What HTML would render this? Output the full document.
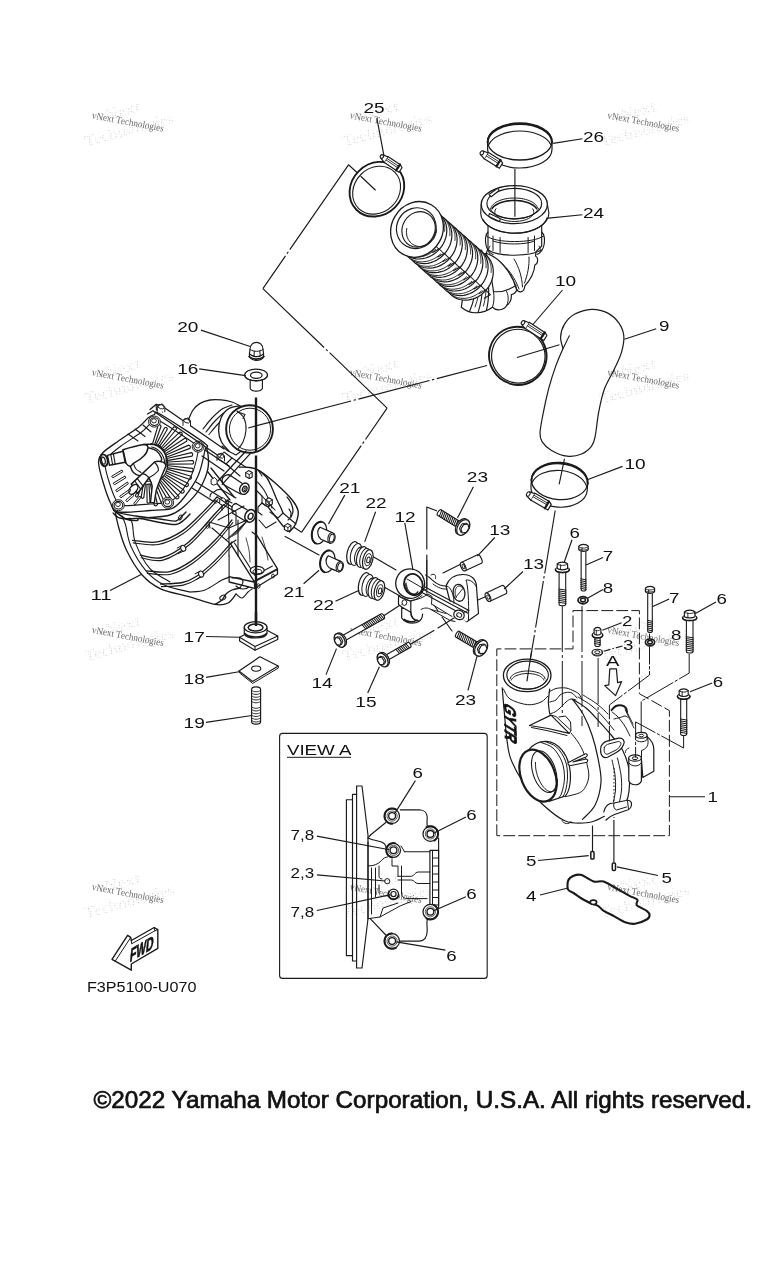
<!DOCTYPE html>
<html><head><meta charset="utf-8"><title>Diagram</title>
<style>
html,body{margin:0;padding:0;background:#fff;}
body{width:768px;height:1280px;overflow:hidden;font-family:"Liberation Sans",sans-serif;}
svg{display:block;position:absolute;left:0;top:0;will-change:transform;}
svg text{font-family:"Liberation Sans",sans-serif;}
svg text.wm{font-family:"Liberation Serif",serif;}
</style></head><body>
<svg width="768" height="1280" viewBox="0 0 768 1280">
<rect x="0" y="0" width="768" height="1280" fill="#fff"/>
<defs><pattern id="dots" width="2.6" height="2.6" patternUnits="userSpaceOnUse" patternTransform="rotate(20)"><rect x="0" y="0" width="1.1" height="1.1" fill="#c4c4c4"/></pattern></defs>
<g transform="rotate(-15 128 122)" fill="url(#dots)" font-weight="bold"><text class="wm" x="98" y="115" font-size="16" textLength="46" lengthAdjust="spacingAndGlyphs">vNext</text><text class="wm" x="81" y="135" font-size="16" textLength="92" lengthAdjust="spacingAndGlyphs">Technologies</text></g>
<text class="wm" x="128" y="125" font-size="10" fill="#6e6e6e" text-anchor="middle" textLength="73" lengthAdjust="spacingAndGlyphs" transform="rotate(10.5 128 122)">vNext Technologies</text>
<g transform="rotate(-15 128 379)" fill="url(#dots)" font-weight="bold"><text class="wm" x="98" y="372" font-size="16" textLength="46" lengthAdjust="spacingAndGlyphs">vNext</text><text class="wm" x="81" y="392" font-size="16" textLength="92" lengthAdjust="spacingAndGlyphs">Technologies</text></g>
<text class="wm" x="128" y="382" font-size="10" fill="#6e6e6e" text-anchor="middle" textLength="73" lengthAdjust="spacingAndGlyphs" transform="rotate(10.5 128 379)">vNext Technologies</text>
<g transform="rotate(-15 128 636.5)" fill="url(#dots)" font-weight="bold"><text class="wm" x="98" y="629.5" font-size="16" textLength="46" lengthAdjust="spacingAndGlyphs">vNext</text><text class="wm" x="81" y="649.5" font-size="16" textLength="92" lengthAdjust="spacingAndGlyphs">Technologies</text></g>
<text class="wm" x="128" y="639.5" font-size="10" fill="#6e6e6e" text-anchor="middle" textLength="73" lengthAdjust="spacingAndGlyphs" transform="rotate(10.5 128 636.5)">vNext Technologies</text>
<g transform="rotate(-15 128 893.5)" fill="url(#dots)" font-weight="bold"><text class="wm" x="98" y="886.5" font-size="16" textLength="46" lengthAdjust="spacingAndGlyphs">vNext</text><text class="wm" x="81" y="906.5" font-size="16" textLength="92" lengthAdjust="spacingAndGlyphs">Technologies</text></g>
<text class="wm" x="128" y="896.5" font-size="10" fill="#6e6e6e" text-anchor="middle" textLength="73" lengthAdjust="spacingAndGlyphs" transform="rotate(10.5 128 893.5)">vNext Technologies</text>
<g transform="rotate(-15 386 122)" fill="url(#dots)" font-weight="bold"><text class="wm" x="356" y="115" font-size="16" textLength="46" lengthAdjust="spacingAndGlyphs">vNext</text><text class="wm" x="339" y="135" font-size="16" textLength="92" lengthAdjust="spacingAndGlyphs">Technologies</text></g>
<text class="wm" x="386" y="125" font-size="10" fill="#6e6e6e" text-anchor="middle" textLength="73" lengthAdjust="spacingAndGlyphs" transform="rotate(10.5 386 122)">vNext Technologies</text>
<g transform="rotate(-15 386 379)" fill="url(#dots)" font-weight="bold"><text class="wm" x="356" y="372" font-size="16" textLength="46" lengthAdjust="spacingAndGlyphs">vNext</text><text class="wm" x="339" y="392" font-size="16" textLength="92" lengthAdjust="spacingAndGlyphs">Technologies</text></g>
<text class="wm" x="386" y="382" font-size="10" fill="#6e6e6e" text-anchor="middle" textLength="73" lengthAdjust="spacingAndGlyphs" transform="rotate(10.5 386 379)">vNext Technologies</text>
<g transform="rotate(-15 386 636.5)" fill="url(#dots)" font-weight="bold"><text class="wm" x="356" y="629.5" font-size="16" textLength="46" lengthAdjust="spacingAndGlyphs">vNext</text><text class="wm" x="339" y="649.5" font-size="16" textLength="92" lengthAdjust="spacingAndGlyphs">Technologies</text></g>
<text class="wm" x="386" y="639.5" font-size="10" fill="#6e6e6e" text-anchor="middle" textLength="73" lengthAdjust="spacingAndGlyphs" transform="rotate(10.5 386 636.5)">vNext Technologies</text>
<g transform="rotate(-15 386 893.5)" fill="url(#dots)" font-weight="bold"><text class="wm" x="356" y="886.5" font-size="16" textLength="46" lengthAdjust="spacingAndGlyphs">vNext</text><text class="wm" x="339" y="906.5" font-size="16" textLength="92" lengthAdjust="spacingAndGlyphs">Technologies</text></g>
<text class="wm" x="386" y="896.5" font-size="10" fill="#6e6e6e" text-anchor="middle" textLength="73" lengthAdjust="spacingAndGlyphs" transform="rotate(10.5 386 893.5)">vNext Technologies</text>
<g transform="rotate(-15 643.5 122)" fill="url(#dots)" font-weight="bold"><text class="wm" x="613.5" y="115" font-size="16" textLength="46" lengthAdjust="spacingAndGlyphs">vNext</text><text class="wm" x="596.5" y="135" font-size="16" textLength="92" lengthAdjust="spacingAndGlyphs">Technologies</text></g>
<text class="wm" x="643.5" y="125" font-size="10" fill="#6e6e6e" text-anchor="middle" textLength="73" lengthAdjust="spacingAndGlyphs" transform="rotate(10.5 643.5 122)">vNext Technologies</text>
<g transform="rotate(-15 643.5 379)" fill="url(#dots)" font-weight="bold"><text class="wm" x="613.5" y="372" font-size="16" textLength="46" lengthAdjust="spacingAndGlyphs">vNext</text><text class="wm" x="596.5" y="392" font-size="16" textLength="92" lengthAdjust="spacingAndGlyphs">Technologies</text></g>
<text class="wm" x="643.5" y="382" font-size="10" fill="#6e6e6e" text-anchor="middle" textLength="73" lengthAdjust="spacingAndGlyphs" transform="rotate(10.5 643.5 379)">vNext Technologies</text>
<g transform="rotate(-15 643.5 636.5)" fill="url(#dots)" font-weight="bold"><text class="wm" x="613.5" y="629.5" font-size="16" textLength="46" lengthAdjust="spacingAndGlyphs">vNext</text><text class="wm" x="596.5" y="649.5" font-size="16" textLength="92" lengthAdjust="spacingAndGlyphs">Technologies</text></g>
<text class="wm" x="643.5" y="639.5" font-size="10" fill="#6e6e6e" text-anchor="middle" textLength="73" lengthAdjust="spacingAndGlyphs" transform="rotate(10.5 643.5 636.5)">vNext Technologies</text>
<g transform="rotate(-15 643.5 893.5)" fill="url(#dots)" font-weight="bold"><text class="wm" x="613.5" y="886.5" font-size="16" textLength="46" lengthAdjust="spacingAndGlyphs">vNext</text><text class="wm" x="596.5" y="906.5" font-size="16" textLength="92" lengthAdjust="spacingAndGlyphs">Technologies</text></g>
<text class="wm" x="643.5" y="896.5" font-size="10" fill="#6e6e6e" text-anchor="middle" textLength="73" lengthAdjust="spacingAndGlyphs" transform="rotate(10.5 643.5 893.5)">vNext Technologies</text>
<path d="M375.3 190 L361 176.5 M357 172.5 L348.5 164.8" stroke="#1a1a1a" stroke-width="1.15" fill="none" stroke-linejoin="round" stroke-linecap="round" />
<path d="M348.5 164.8 L289.8 249.7 M288.3 251.8 L287.0 253.8 M285.5 255.9 L262.9 288.6 " stroke="#1a1a1a" stroke-width="1.15" fill="none" stroke-linecap="butt"/>
<path d="M262.9 288.6 L324.1 347.5 M326.0 349.3 L327.7 350.9 M329.6 352.7 L387.1 408.1 " stroke="#1a1a1a" stroke-width="1.15" fill="none" stroke-linecap="butt"/>
<path d="M387.1 408.1 L365.5 439.5 M364.0 441.6 L362.6 443.6 M361.2 445.7 L301.5 532.3 " stroke="#1a1a1a" stroke-width="1.15" fill="none" stroke-linecap="butt"/>
<line x1="301.5" y1="532.3" x2="283.9" y2="520.5" stroke="#1a1a1a" stroke-width="1.15" stroke-linecap="butt"/>
<path d="M250.0 427.4 L351.1 401.0 M353.6 400.3 L355.9 399.7 M358.5 399.1 L429.5 380.5 M432.0 379.9 L434.3 379.3 M436.8 378.6 L487.0 365.5 " stroke="#1a1a1a" stroke-width="1.15" fill="none" stroke-linecap="butt"/>
<line x1="517" y1="357.5" x2="559.4" y2="344.8" stroke="#1a1a1a" stroke-width="1.15" stroke-linecap="butt"/>
<path d="M555.2 510.5 L544.7 573.5 M544.2 576.1 L543.8 578.5 M543.4 581.0 L535.6 627.5 M535.2 630.0 L534.8 632.4 M534.4 635.0 L527.5 676.0 " stroke="#1a1a1a" stroke-width="1.15" fill="none" stroke-linecap="butt"/>
<path d="M436.5 510.8 L426.8 507 L426.8 549 M426.8 555 L426.8 593.7 L438 611 M442 617 L452 631" stroke="#1a1a1a" stroke-width="1.15" fill="none" stroke-linejoin="round" stroke-linecap="round" />
<path d="M383.3 616 L401 604.5" stroke="#1a1a1a" stroke-width="1.15" fill="none" stroke-linejoin="round" stroke-linecap="round" />
<path d="M409.4 644.7 L434 630.5 M438 628 L454 618" stroke="#1a1a1a" stroke-width="1.15" fill="none" stroke-linejoin="round" stroke-linecap="round" />
<path d="M372 556 L396 570" stroke="#1a1a1a" stroke-width="1.15" fill="none" stroke-linejoin="round" stroke-linecap="round" />
<path d="M384 587 L400 596" stroke="#1a1a1a" stroke-width="1.15" fill="none" stroke-linejoin="round" stroke-linecap="round" />
<path d="M319 555 L266 526" stroke="#1a1a1a" stroke-width="1.15" fill="none" stroke-linejoin="round" stroke-linecap="round" />
<path d="M463 563 L443 573" stroke="#1a1a1a" stroke-width="1.15" fill="none" stroke-linejoin="round" stroke-linecap="round" />
<path d="M487 596 L478 600" stroke="#1a1a1a" stroke-width="1.15" fill="none" stroke-linejoin="round" stroke-linecap="round" />
<path d="M496.8 835.7 L496.8 648.9 L573 648.9 L573 610.6 L639.4 610.6 L639.4 693.7 L669.4 710.6 L669.4 835.7 Z" stroke="#1a1a1a" stroke-width="1.0" fill="none" stroke-dasharray="11 4" stroke-linejoin="round" stroke-linecap="round" stroke-linecap="butt"/>
<rect x="279.6" y="733.4" width="207.6" height="245" rx="3" ry="3" fill="none" stroke="#1a1a1a" stroke-width="1.1"/>
<line x1="592.5" y1="825.6" x2="592.5" y2="851" stroke="#1a1a1a" stroke-width="1.15" stroke-linecap="butt"/>
<line x1="613.9" y1="820" x2="613.9" y2="862.5" stroke="#1a1a1a" stroke-width="1.15" stroke-linecap="butt"/>
<rect x="590.8" y="851.6" width="3.2" height="7.4" rx="1.1" fill="#fff" stroke="#1a1a1a" stroke-width="1.5"/>
<rect x="612.3" y="863" width="3.2" height="7.4" rx="1.1" fill="#fff" stroke="#1a1a1a" stroke-width="1.5"/>
<ellipse cx="376.9" cy="189.2" rx="29" ry="25.6" stroke="#1a1a1a" stroke-width="1.9" fill="none" transform="rotate(-45 376.9 189.2)"/>
<ellipse cx="376.6" cy="190.2" rx="25.6" ry="22.2" stroke="#1a1a1a" stroke-width="1.1" fill="none" transform="rotate(-45 376.6 190.2)"/>
<g transform="translate(392.2 163.5) rotate(34)" stroke="#1a1a1a" stroke-linejoin="round" stroke-linecap="round"><path d="M-7.5 -3.5 L7.5 -3.5 L10.5 -2.0 L10.5 3.5 L-7.5 3.5 Z" fill="#fff" stroke-width="1.2"/><path d="M-7.5 -1.2999999999999998 L7.5 -1.2999999999999998 M-7.5 0.5 L7.5 0.5" fill="none" stroke-width="0.8"/><path d="M-7.5 -3.0 L-12.5 -2.0 L-12.5 2.0 L-7.5 3.5" fill="#fff" stroke-width="1.2"/><ellipse cx="-12.5" cy="0" rx="1.6" ry="1.9" fill="#fff" stroke-width="1.1"/><path d="M7.0 -3.5 L7.0 3.5" stroke-width="2.2"/></g>
<ellipse cx="519.8" cy="141.5" rx="32.2" ry="18.5" stroke="#1a1a1a" stroke-width="1.3" fill="none"/>
<path d="M487.59999999999997 142.5 A32.2 18.5 0 0 1 552.0 142.5" stroke="#1a1a1a" stroke-width="2.0" fill="none" stroke-linejoin="round" stroke-linecap="round" />
<path d="M488.566 145.06 A32.2 18.5 0 0 1 551.034 145.06" stroke="#1a1a1a" stroke-width="1.1" fill="none" stroke-linejoin="round" stroke-linecap="round" />
<path d="M487.59999999999997 141.5 L487.59999999999997 149.5 A32.2 18.5 0 0 0 552.0 149.5 L552.0 141.5" stroke="#1a1a1a" stroke-width="1.2" fill="none" stroke-linejoin="round" stroke-linecap="round" />
<g transform="translate(492.5 159.5) rotate(32)" stroke="#1a1a1a" stroke-linejoin="round" stroke-linecap="round"><path d="M-7.5 -3.75 L7.5 -3.75 L10.5 -2.25 L10.5 3.75 L-7.5 3.75 Z" fill="#fff" stroke-width="1.2"/><path d="M-7.5 -1.5499999999999998 L7.5 -1.5499999999999998 M-7.5 0.25 L7.5 0.25" fill="none" stroke-width="0.8"/><path d="M-7.5 -3.25 L-12.5 -2.25 L-12.5 2.25 L-7.5 3.75" fill="#fff" stroke-width="1.2"/><ellipse cx="-12.5" cy="0" rx="1.6" ry="2.15" fill="#fff" stroke-width="1.1"/><path d="M7.0 -3.75 L7.0 3.75" stroke-width="2.2"/></g>
<ellipse cx="517.8" cy="355.8" rx="28.6" ry="29.2" stroke="#1a1a1a" stroke-width="1.9" fill="none" transform="rotate(-30 517.8 355.8)"/>
<ellipse cx="518.3" cy="356.2" rx="26.6" ry="27.0" stroke="#1a1a1a" stroke-width="1.2" fill="none" transform="rotate(-30 518.3 356.2)"/>
<g transform="translate(535.2 330.6) rotate(33)" stroke="#1a1a1a" stroke-linejoin="round" stroke-linecap="round"><path d="M-9.5 -3.75 L9.5 -3.75 L12.5 -2.25 L12.5 3.75 L-9.5 3.75 Z" fill="#fff" stroke-width="1.2"/><path d="M-9.5 -1.5499999999999998 L9.5 -1.5499999999999998 M-9.5 0.25 L9.5 0.25" fill="none" stroke-width="0.8"/><path d="M-9.5 -3.25 L-14.5 -2.25 L-14.5 2.25 L-9.5 3.75" fill="#fff" stroke-width="1.2"/><ellipse cx="-14.5" cy="0" rx="1.6" ry="2.15" fill="#fff" stroke-width="1.1"/><path d="M9.0 -3.75 L9.0 3.75" stroke-width="2.2"/></g>
<g transform="rotate(4 559.6 481)">
<ellipse cx="559.6" cy="481" rx="28.2" ry="18.6" stroke="#1a1a1a" stroke-width="1.3" fill="none"/>
<path d="M531.4 482 A28.2 18.6 0 0 1 587.8000000000001 482" stroke="#1a1a1a" stroke-width="1.9" fill="none" stroke-linejoin="round" stroke-linecap="round" />
<path d="M532.105 484.88 A28.2 18.6 0 0 1 587.095 484.88" stroke="#1a1a1a" stroke-width="1.1" fill="none" stroke-linejoin="round" stroke-linecap="round" />
<path d="M531.4 481 L531.4 488.6 A28.2 18.6 0 0 0 587.8000000000001 488.6 L587.8000000000001 481" stroke="#1a1a1a" stroke-width="1.2" fill="none" stroke-linejoin="round" stroke-linecap="round" />
</g>
<g transform="translate(540 500.8) rotate(30)" stroke="#1a1a1a" stroke-linejoin="round" stroke-linecap="round"><path d="M-8.5 -4.0 L8.5 -4.0 L11.5 -2.5 L11.5 4.0 L-8.5 4.0 Z" fill="#fff" stroke-width="1.2"/><path d="M-8.5 -1.7999999999999998 L8.5 -1.7999999999999998 M-8.5 0.0 L8.5 0.0" fill="none" stroke-width="0.8"/><path d="M-8.5 -3.5 L-13.5 -2.5 L-13.5 2.5 L-8.5 4.0" fill="#fff" stroke-width="1.2"/><ellipse cx="-13.5" cy="0" rx="1.6" ry="2.4" fill="#fff" stroke-width="1.1"/><path d="M8.0 -4.0 L8.0 4.0" stroke-width="2.2"/></g>
<path d="M485.8 254.5 C497 258 511 270 516.6 288.9 C519 294 524.5 292 524.8 286 C531 279 534.5 271 534.8 265 C538.5 263.5 538.5 257.5 535.5 256 L536 251.6 L541.7 246 L541.7 222 L488 222 L488 248.8 Z" stroke="#1a1a1a" stroke-width="1.15" fill="#fff" stroke-linejoin="round" stroke-linecap="round" />
<path d="M500 262 C508 268 515 278 519 289" stroke="#1a1a1a" stroke-width="1.0" fill="none" stroke-linejoin="round" stroke-linecap="round" />
<path d="M514 259 C519 267 522 277 522.5 287" stroke="#1a1a1a" stroke-width="1.0" fill="none" stroke-linejoin="round" stroke-linecap="round" />
<path d="M529 257 C529.5 266 527.5 275 524.5 283" stroke="#1a1a1a" stroke-width="1.0" fill="none" stroke-linejoin="round" stroke-linecap="round" />
<path d="M486.2 253.2 C474 268 463 290 461.3 307.2 C466 311 471 313 475.3 312.7 C482 313 488 310.5 492.5 307.2 C496 311.5 504 310.5 507 305 C510 303 511.6 299 511.3 294.7 C514 294 516 292 516.7 290 C511 270 498 257 486.2 253.2 Z" stroke="#1a1a1a" stroke-width="1.2" fill="#fff" stroke-linejoin="round" stroke-linecap="round" />
<path d="M486.2 253.2 C490 266 492 280 493.5 291.6 C501 292.5 508 290.5 516 285.6" stroke="#1a1a1a" stroke-width="1.15" fill="none" stroke-linejoin="round" stroke-linecap="round" />
<path d="M481.5 250 C488 268 491 292 486.5 310.5 M476 246.5 C483.5 266 485 292 478 312.6 M470.5 243 C478 262 478.5 292 469.5 311.5" stroke="#1a1a1a" stroke-width="1.15" fill="none" stroke-linejoin="round" stroke-linecap="round" />
<path d="M493.5 291.6 C494.5 297 494 303 492.5 307.2 M506 290.6 C508.5 294 509 300 507 305" stroke="#1a1a1a" stroke-width="1.0" fill="none" stroke-linejoin="round" stroke-linecap="round" />
<path d="M484 262 C486.5 275 487.5 292 483.5 306 M478 262 C480.5 275 481 292 475 307" stroke="#1a1a1a" stroke-width="0.9" fill="none" stroke-linejoin="round" stroke-linecap="round" />
<path d="M482.3 252.5 L484.8 254.1 L487.0 256.0 L488.9 258.2 L490.5 260.6 L491.8 263.4 L492.7 266.2 L493.2 269.3 L493.3 272.4 L493.0 275.6 L492.3 278.8 L491.2 281.9 L489.8 284.9 L488.0 287.7 L485.9 290.4 L483.5 292.8 L480.9 294.9 L478.1 296.7 L475.2 298.1 L472.1 299.2 L469.0 299.9 L465.9 300.1 L462.8 300.0 L459.8 299.5 L457.0 298.6 L454.3 297.3 L451.9 295.6 L449.8 293.6 L447.9 291.4 " stroke="#1a1a1a" stroke-width="1.2" fill="#fff" stroke-linejoin="round" stroke-linecap="round" />
<path d="M482.0 290.5 L481.1 291.4 L480.1 292.1 L479.2 292.9 L478.2 293.6 L477.2 294.2 L476.2 294.8 L475.1 295.4 L474.1 295.9 L473.0 296.4 L471.9 296.8 L470.8 297.2 L469.7 297.5 L468.6 297.8 L467.4 298.0 L466.3 298.2 L465.2 298.3 L464.1 298.3 L463.0 298.3 L461.9 298.3 L460.8 298.2 L459.7 298.1 L458.7 297.9 L457.6 297.6 L456.6 297.3 L455.6 296.9 L454.6 296.5 L453.7 296.1 L452.7 295.6 " stroke="#1a1a1a" stroke-width="0.95" fill="none" stroke-linejoin="round" stroke-linecap="round" />
<path d="M485.8 255.3 L486.2 255.8 L486.6 256.2 L487.0 256.7 L487.4 257.3 L487.8 257.8 L488.1 258.3 L488.4 258.9 L488.7 259.4 L489.0 260.0 L489.3 260.6 L489.6 261.2 L489.8 261.8 L490.0 262.4 L490.2 263.0 L490.4 263.7 L490.6 264.3 L490.7 265.0 L490.9 265.6 L491.0 266.3 L491.1 266.9 L491.1 267.6 L491.2 268.3 L491.2 269.0 L491.2 269.6 L491.2 270.3 L491.2 271.0 L491.2 271.7 L491.1 272.4 " stroke="#1a1a1a" stroke-width="0.95" fill="none" stroke-linejoin="round" stroke-linecap="round" />
<path d="M477.1 248.0 L479.6 249.5 L481.8 251.4 L483.8 253.6 L485.4 256.1 L486.6 258.8 L487.5 261.7 L488.0 264.7 L488.1 267.8 L487.8 271.0 L487.1 274.2 L486.0 277.3 L484.6 280.3 L482.8 283.1 L480.7 285.8 L478.4 288.2 L475.8 290.3 L473.0 292.1 L470.0 293.5 L466.9 294.6 L463.8 295.3 L460.7 295.6 L457.6 295.4 L454.6 294.9 L451.8 294.0 L449.2 292.7 L446.7 291.1 L444.6 289.1 L442.8 286.8 " stroke="#1a1a1a" stroke-width="1.2" fill="#fff" stroke-linejoin="round" stroke-linecap="round" />
<path d="M476.8 286.0 L475.9 286.8 L475.0 287.6 L474.0 288.3 L473.0 289.0 L472.0 289.6 L471.0 290.3 L470.0 290.8 L468.9 291.3 L467.8 291.8 L466.7 292.2 L465.6 292.6 L464.5 292.9 L463.4 293.2 L462.3 293.4 L461.2 293.6 L460.0 293.7 L458.9 293.8 L457.8 293.8 L456.7 293.7 L455.6 293.6 L454.5 293.5 L453.5 293.3 L452.4 293.0 L451.4 292.7 L450.4 292.4 L449.4 292.0 L448.5 291.5 L447.6 291.0 " stroke="#1a1a1a" stroke-width="0.95" fill="none" stroke-linejoin="round" stroke-linecap="round" />
<path d="M480.6 250.7 L481.0 251.2 L481.5 251.7 L481.8 252.2 L482.2 252.7 L482.6 253.2 L482.9 253.8 L483.3 254.3 L483.6 254.9 L483.9 255.4 L484.1 256.0 L484.4 256.6 L484.6 257.2 L484.9 257.8 L485.1 258.5 L485.2 259.1 L485.4 259.7 L485.6 260.4 L485.7 261.0 L485.8 261.7 L485.9 262.4 L486.0 263.0 L486.0 263.7 L486.1 264.4 L486.1 265.1 L486.1 265.8 L486.1 266.5 L486.0 267.1 L486.0 267.8 " stroke="#1a1a1a" stroke-width="0.95" fill="none" stroke-linejoin="round" stroke-linecap="round" />
<path d="M471.9 243.4 L474.4 244.9 L476.7 246.8 L478.6 249.0 L480.2 251.5 L481.5 254.2 L482.3 257.1 L482.8 260.1 L482.9 263.3 L482.6 266.5 L481.9 269.6 L480.9 272.7 L479.4 275.7 L477.7 278.6 L475.6 281.2 L473.2 283.6 L470.6 285.7 L467.8 287.5 L464.8 289.0 L461.8 290.0 L458.7 290.7 L455.5 291.0 L452.5 290.9 L449.5 290.3 L446.6 289.4 L444.0 288.1 L441.6 286.5 L439.4 284.5 L437.6 282.2 " stroke="#1a1a1a" stroke-width="1.2" fill="#fff" stroke-linejoin="round" stroke-linecap="round" />
<path d="M471.6 281.4 L470.7 282.2 L469.8 283.0 L468.9 283.7 L467.9 284.4 L466.9 285.1 L465.8 285.7 L464.8 286.2 L463.7 286.8 L462.7 287.2 L461.6 287.7 L460.5 288.0 L459.3 288.3 L458.2 288.6 L457.1 288.8 L456.0 289.0 L454.9 289.1 L453.8 289.2 L452.6 289.2 L451.5 289.2 L450.5 289.1 L449.4 288.9 L448.3 288.7 L447.3 288.5 L446.3 288.2 L445.2 287.8 L444.3 287.4 L443.3 287.0 L442.4 286.5 " stroke="#1a1a1a" stroke-width="0.95" fill="none" stroke-linejoin="round" stroke-linecap="round" />
<path d="M475.5 246.1 L475.9 246.6 L476.3 247.1 L476.7 247.6 L477.1 248.1 L477.4 248.6 L477.8 249.2 L478.1 249.7 L478.4 250.3 L478.7 250.9 L479.0 251.5 L479.2 252.1 L479.5 252.7 L479.7 253.3 L479.9 253.9 L480.1 254.5 L480.2 255.2 L480.4 255.8 L480.5 256.5 L480.6 257.1 L480.7 257.8 L480.8 258.5 L480.9 259.1 L480.9 259.8 L480.9 260.5 L480.9 261.2 L480.9 261.9 L480.8 262.6 L480.8 263.3 " stroke="#1a1a1a" stroke-width="0.95" fill="none" stroke-linejoin="round" stroke-linecap="round" />
<path d="M466.8 238.8 L469.3 240.4 L471.5 242.3 L473.4 244.5 L475.0 246.9 L476.3 249.6 L477.2 252.5 L477.7 255.6 L477.8 258.7 L477.5 261.9 L476.8 265.1 L475.7 268.2 L474.3 271.2 L472.5 274.0 L470.4 276.6 L468.0 279.0 L465.4 281.1 L462.6 282.9 L459.7 284.4 L456.6 285.5 L453.5 286.1 L450.4 286.4 L447.3 286.3 L444.3 285.8 L441.5 284.9 L438.8 283.6 L436.4 281.9 L434.3 279.9 L432.4 277.6 " stroke="#1a1a1a" stroke-width="1.2" fill="#fff" stroke-linejoin="round" stroke-linecap="round" />
<path d="M466.5 276.8 L465.6 277.6 L464.6 278.4 L463.7 279.2 L462.7 279.9 L461.7 280.5 L460.7 281.1 L459.6 281.7 L458.6 282.2 L457.5 282.7 L456.4 283.1 L455.3 283.5 L454.2 283.8 L453.1 284.0 L451.9 284.3 L450.8 284.4 L449.7 284.5 L448.6 284.6 L447.5 284.6 L446.4 284.6 L445.3 284.5 L444.2 284.3 L443.2 284.1 L442.1 283.9 L441.1 283.6 L440.1 283.2 L439.1 282.8 L438.2 282.4 L437.2 281.9 " stroke="#1a1a1a" stroke-width="0.95" fill="none" stroke-linejoin="round" stroke-linecap="round" />
<path d="M470.3 241.6 L470.7 242.0 L471.1 242.5 L471.5 243.0 L471.9 243.5 L472.2 244.1 L472.6 244.6 L472.9 245.2 L473.2 245.7 L473.5 246.3 L473.8 246.9 L474.1 247.5 L474.3 248.1 L474.5 248.7 L474.7 249.3 L474.9 250.0 L475.1 250.6 L475.2 251.2 L475.4 251.9 L475.5 252.6 L475.6 253.2 L475.6 253.9 L475.7 254.6 L475.7 255.2 L475.7 255.9 L475.7 256.6 L475.7 257.3 L475.7 258.0 L475.6 258.7 " stroke="#1a1a1a" stroke-width="0.95" fill="none" stroke-linejoin="round" stroke-linecap="round" />
<path d="M461.6 234.3 L464.1 235.8 L466.3 237.7 L468.3 239.9 L469.9 242.4 L471.1 245.1 L472.0 248.0 L472.5 251.0 L472.6 254.1 L472.3 257.3 L471.6 260.5 L470.5 263.6 L469.1 266.6 L467.3 269.4 L465.2 272.1 L462.9 274.5 L460.3 276.6 L457.5 278.4 L454.5 279.8 L451.4 280.9 L448.3 281.6 L445.2 281.8 L442.1 281.7 L439.1 281.2 L436.3 280.3 L433.7 279.0 L431.2 277.3 L429.1 275.4 L427.2 273.1 " stroke="#1a1a1a" stroke-width="1.2" fill="#fff" stroke-linejoin="round" stroke-linecap="round" />
<path d="M461.3 272.3 L460.4 273.1 L459.5 273.8 L458.5 274.6 L457.5 275.3 L456.5 275.9 L455.5 276.5 L454.5 277.1 L453.4 277.6 L452.3 278.1 L451.2 278.5 L450.1 278.9 L449.0 279.2 L447.9 279.5 L446.8 279.7 L445.7 279.9 L444.5 280.0 L443.4 280.0 L442.3 280.0 L441.2 280.0 L440.1 279.9 L439.0 279.8 L438.0 279.6 L436.9 279.3 L435.9 279.0 L434.9 278.7 L433.9 278.3 L433.0 277.8 L432.1 277.3 " stroke="#1a1a1a" stroke-width="0.95" fill="none" stroke-linejoin="round" stroke-linecap="round" />
<path d="M465.1 237.0 L465.5 237.5 L466.0 238.0 L466.3 238.5 L466.7 239.0 L467.1 239.5 L467.4 240.0 L467.8 240.6 L468.1 241.2 L468.4 241.7 L468.6 242.3 L468.9 242.9 L469.1 243.5 L469.4 244.1 L469.6 244.8 L469.7 245.4 L469.9 246.0 L470.1 246.7 L470.2 247.3 L470.3 248.0 L470.4 248.6 L470.5 249.3 L470.5 250.0 L470.6 250.7 L470.6 251.4 L470.6 252.0 L470.6 252.7 L470.5 253.4 L470.5 254.1 " stroke="#1a1a1a" stroke-width="0.95" fill="none" stroke-linejoin="round" stroke-linecap="round" />
<path d="M456.4 229.7 L458.9 231.2 L461.2 233.1 L463.1 235.3 L464.7 237.8 L466.0 240.5 L466.8 243.4 L467.3 246.4 L467.4 249.6 L467.1 252.7 L466.4 255.9 L465.4 259.0 L463.9 262.0 L462.2 264.9 L460.1 267.5 L457.7 269.9 L455.1 272.0 L452.3 273.8 L449.3 275.2 L446.3 276.3 L443.2 277.0 L440.0 277.3 L437.0 277.2 L434.0 276.6 L431.1 275.7 L428.5 274.4 L426.1 272.8 L423.9 270.8 L422.1 268.5 " stroke="#1a1a1a" stroke-width="1.2" fill="#fff" stroke-linejoin="round" stroke-linecap="round" />
<path d="M456.1 267.7 L455.2 268.5 L454.3 269.3 L453.4 270.0 L452.4 270.7 L451.4 271.4 L450.3 272.0 L449.3 272.5 L448.2 273.0 L447.1 273.5 L446.1 273.9 L445.0 274.3 L443.8 274.6 L442.7 274.9 L441.6 275.1 L440.5 275.3 L439.4 275.4 L438.3 275.5 L437.1 275.5 L436.0 275.4 L435.0 275.3 L433.9 275.2 L432.8 275.0 L431.8 274.7 L430.7 274.4 L429.7 274.1 L428.8 273.7 L427.8 273.2 L426.9 272.7 " stroke="#1a1a1a" stroke-width="0.95" fill="none" stroke-linejoin="round" stroke-linecap="round" />
<path d="M460.0 232.4 L460.4 232.9 L460.8 233.4 L461.2 233.9 L461.6 234.4 L461.9 234.9 L462.3 235.5 L462.6 236.0 L462.9 236.6 L463.2 237.2 L463.5 237.7 L463.7 238.3 L464.0 238.9 L464.2 239.6 L464.4 240.2 L464.6 240.8 L464.7 241.5 L464.9 242.1 L465.0 242.8 L465.1 243.4 L465.2 244.1 L465.3 244.7 L465.4 245.4 L465.4 246.1 L465.4 246.8 L465.4 247.5 L465.4 248.2 L465.3 248.9 L465.3 249.5 " stroke="#1a1a1a" stroke-width="0.95" fill="none" stroke-linejoin="round" stroke-linecap="round" />
<path d="M451.3 225.1 L453.8 226.7 L456.0 228.5 L457.9 230.7 L459.5 233.2 L460.8 235.9 L461.7 238.8 L462.2 241.9 L462.3 245.0 L462.0 248.2 L461.3 251.3 L460.2 254.4 L458.8 257.4 L457.0 260.3 L454.9 262.9 L452.5 265.3 L449.9 267.4 L447.1 269.2 L444.2 270.7 L441.1 271.7 L438.0 272.4 L434.9 272.7 L431.8 272.6 L428.8 272.1 L426.0 271.1 L423.3 269.9 L420.9 268.2 L418.8 266.2 L416.9 263.9 " stroke="#1a1a1a" stroke-width="1.2" fill="#fff" stroke-linejoin="round" stroke-linecap="round" />
<path d="M451.0 263.1 L450.1 263.9 L449.1 264.7 L448.2 265.4 L447.2 266.1 L446.2 266.8 L445.2 267.4 L444.1 268.0 L443.1 268.5 L442.0 268.9 L440.9 269.4 L439.8 269.7 L438.7 270.1 L437.6 270.3 L436.4 270.6 L435.3 270.7 L434.2 270.8 L433.1 270.9 L432.0 270.9 L430.9 270.9 L429.8 270.8 L428.7 270.6 L427.6 270.4 L426.6 270.2 L425.6 269.9 L424.6 269.5 L423.6 269.1 L422.6 268.7 L421.7 268.2 " stroke="#1a1a1a" stroke-width="0.95" fill="none" stroke-linejoin="round" stroke-linecap="round" />
<path d="M454.8 227.8 L455.2 228.3 L455.6 228.8 L456.0 229.3 L456.4 229.8 L456.7 230.4 L457.1 230.9 L457.4 231.4 L457.7 232.0 L458.0 232.6 L458.3 233.2 L458.6 233.8 L458.8 234.4 L459.0 235.0 L459.2 235.6 L459.4 236.2 L459.6 236.9 L459.7 237.5 L459.9 238.2 L460.0 238.8 L460.1 239.5 L460.1 240.2 L460.2 240.9 L460.2 241.5 L460.2 242.2 L460.2 242.9 L460.2 243.6 L460.2 244.3 L460.1 245.0 " stroke="#1a1a1a" stroke-width="0.95" fill="none" stroke-linejoin="round" stroke-linecap="round" />
<path d="M446.1 220.5 L448.6 222.1 L450.8 224.0 L452.8 226.2 L454.4 228.6 L455.6 231.3 L456.5 234.2 L457.0 237.3 L457.1 240.4 L456.8 243.6 L456.1 246.8 L455.0 249.9 L453.6 252.9 L451.8 255.7 L449.7 258.4 L447.4 260.8 L444.8 262.9 L442.0 264.6 L439.0 266.1 L435.9 267.2 L432.8 267.8 L429.7 268.1 L426.6 268.0 L423.6 267.5 L420.8 266.6 L418.2 265.3 L415.7 263.6 L413.6 261.6 L411.7 259.4 " stroke="#1a1a1a" stroke-width="1.2" fill="#fff" stroke-linejoin="round" stroke-linecap="round" />
<path d="M445.8 258.5 L444.9 259.4 L444.0 260.1 L443.0 260.9 L442.0 261.6 L441.0 262.2 L440.0 262.8 L439.0 263.4 L437.9 263.9 L436.8 264.4 L435.7 264.8 L434.6 265.2 L433.5 265.5 L432.4 265.8 L431.3 266.0 L430.2 266.1 L429.0 266.3 L427.9 266.3 L426.8 266.3 L425.7 266.3 L424.6 266.2 L423.5 266.0 L422.5 265.8 L421.4 265.6 L420.4 265.3 L419.4 264.9 L418.4 264.5 L417.5 264.1 L416.6 263.6 " stroke="#1a1a1a" stroke-width="0.95" fill="none" stroke-linejoin="round" stroke-linecap="round" />
<path d="M449.6 223.3 L450.0 223.7 L450.4 224.2 L450.8 224.7 L451.2 225.3 L451.6 225.8 L451.9 226.3 L452.2 226.9 L452.6 227.4 L452.9 228.0 L453.1 228.6 L453.4 229.2 L453.6 229.8 L453.8 230.4 L454.1 231.0 L454.2 231.7 L454.4 232.3 L454.6 233.0 L454.7 233.6 L454.8 234.3 L454.9 234.9 L455.0 235.6 L455.0 236.3 L455.1 237.0 L455.1 237.6 L455.1 238.3 L455.0 239.0 L455.0 239.7 L454.9 240.4 " stroke="#1a1a1a" stroke-width="0.95" fill="none" stroke-linejoin="round" stroke-linecap="round" />
<path d="M440.9 216.0 L443.4 217.5 L445.7 219.4 L447.6 221.6 L449.2 224.1 L450.4 226.8 L451.3 229.7 L451.8 232.7 L451.9 235.8 L451.6 239.0 L450.9 242.2 L449.9 245.3 L448.4 248.3 L446.6 251.1 L444.6 253.8 L442.2 256.2 L439.6 258.3 L436.8 260.1 L433.8 261.5 L430.8 262.6 L427.7 263.3 L424.5 263.6 L421.5 263.4 L418.5 262.9 L415.6 262.0 L413.0 260.7 L410.6 259.1 L408.4 257.1 L406.6 254.8 " stroke="#1a1a1a" stroke-width="1.2" fill="#fff" stroke-linejoin="round" stroke-linecap="round" />
<path d="M440.6 254.0 L439.7 254.8 L438.8 255.6 L437.8 256.3 L436.9 257.0 L435.9 257.6 L434.8 258.3 L433.8 258.8 L432.7 259.3 L431.6 259.8 L430.6 260.2 L429.5 260.6 L428.3 260.9 L427.2 261.2 L426.1 261.4 L425.0 261.6 L423.9 261.7 L422.8 261.8 L421.6 261.8 L420.5 261.7 L419.5 261.6 L418.4 261.5 L417.3 261.3 L416.3 261.0 L415.2 260.7 L414.2 260.4 L413.3 260.0 L412.3 259.5 L411.4 259.0 " stroke="#1a1a1a" stroke-width="0.95" fill="none" stroke-linejoin="round" stroke-linecap="round" />
<path d="M444.4 218.7 L444.9 219.2 L445.3 219.7 L445.7 220.2 L446.0 220.7 L446.4 221.2 L446.8 221.7 L447.1 222.3 L447.4 222.9 L447.7 223.4 L448.0 224.0 L448.2 224.6 L448.5 225.2 L448.7 225.8 L448.9 226.5 L449.1 227.1 L449.2 227.7 L449.4 228.4 L449.5 229.0 L449.6 229.7 L449.7 230.4 L449.8 231.0 L449.9 231.7 L449.9 232.4 L449.9 233.1 L449.9 233.8 L449.9 234.4 L449.8 235.1 L449.8 235.8 " stroke="#1a1a1a" stroke-width="0.95" fill="none" stroke-linejoin="round" stroke-linecap="round" />
<path d="M435.8 211.4 L438.3 212.9 L440.5 214.8 L442.4 217.0 L444.0 219.5 L445.3 222.2 L446.2 225.1 L446.7 228.1 L446.8 231.3 L446.5 234.4 L445.8 237.6 L444.7 240.7 L443.3 243.7 L441.5 246.6 L439.4 249.2 L437.0 251.6 L434.4 253.7 L431.6 255.5 L428.7 256.9 L425.6 258.0 L422.5 258.7 L419.4 259.0 L416.3 258.9 L413.3 258.3 L410.5 257.4 L407.8 256.1 L405.4 254.5 L403.3 252.5 L401.4 250.2 " stroke="#1a1a1a" stroke-width="1.2" fill="#fff" stroke-linejoin="round" stroke-linecap="round" />
<path d="M435.5 249.4 L434.6 250.2 L433.6 251.0 L432.7 251.7 L431.7 252.4 L430.7 253.1 L429.7 253.7 L428.6 254.2 L427.6 254.8 L426.5 255.2 L425.4 255.7 L424.3 256.0 L423.2 256.3 L422.1 256.6 L420.9 256.8 L419.8 257.0 L418.7 257.1 L417.6 257.2 L416.5 257.2 L415.4 257.1 L414.3 257.1 L413.2 256.9 L412.1 256.7 L411.1 256.5 L410.1 256.2 L409.1 255.8 L408.1 255.4 L407.1 254.9 L406.2 254.4 " stroke="#1a1a1a" stroke-width="0.95" fill="none" stroke-linejoin="round" stroke-linecap="round" />
<path d="M439.3 214.1 L439.7 214.6 L440.1 215.1 L440.5 215.6 L440.9 216.1 L441.2 216.6 L441.6 217.2 L441.9 217.7 L442.2 218.3 L442.5 218.9 L442.8 219.5 L443.1 220.0 L443.3 220.7 L443.5 221.3 L443.7 221.9 L443.9 222.5 L444.1 223.2 L444.2 223.8 L444.4 224.5 L444.5 225.1 L444.6 225.8 L444.6 226.5 L444.7 227.1 L444.7 227.8 L444.7 228.5 L444.7 229.2 L444.7 229.9 L444.7 230.6 L444.6 231.3 " stroke="#1a1a1a" stroke-width="0.95" fill="none" stroke-linejoin="round" stroke-linecap="round" />
<path d="M433.7 244.0 L438.7 249.0 L432.7 252.5 M438.8 248.5 L443.8 253.5 L437.8 257.0 M444.0 253.1 L449.0 258.1 L443.0 261.6 M449.2 257.7 L454.2 262.7 L448.2 266.2 M454.3 262.3 L459.3 267.3 L453.3 270.8 M459.5 266.8 L464.5 271.8 L458.5 275.3 M464.7 271.4 L469.7 276.4 L463.7 279.9 M469.8 276.0 L474.8 281.0 L468.8 284.5 M475.0 280.5 L480.0 285.5 L474.0 289.0 M480.2 285.1 L485.2 290.1 L479.2 293.6 M485.3 289.7 L490.3 294.7 L484.3 298.2" stroke="#1a1a1a" stroke-width="1.05" fill="none" stroke-linejoin="round" stroke-linecap="round" />
<ellipse cx="417.0" cy="229.4" rx="28.5" ry="25.6" stroke="#1a1a1a" stroke-width="1.3" fill="#fff" transform="rotate(-60 417.0 229.4)"/>
<ellipse cx="416.3" cy="228.2" rx="20.6" ry="19.6" stroke="#1a1a1a" stroke-width="1.15" fill="none" transform="rotate(-60 416.3 228.2)"/>
<ellipse cx="418.6" cy="229.4" rx="18.2" ry="16.2" stroke="#1a1a1a" stroke-width="1.15" fill="none" transform="rotate(-60 418.6 229.4)"/>
<path d="M436.6 229.7 L436.4 231.6 L435.9 233.5 L435.3 235.3 L434.5 237.1 L433.6 238.8 L432.4 240.3 L431.1 241.7 L429.7 243.0 L428.1 244.1 L426.5 245.0 L424.7 245.7 L423.0 246.2 L421.2 246.4 L419.4 246.5 L417.7 246.3 L416.0 245.9 L414.4 245.2 L412.8 244.4 L411.4 243.4 L410.2 242.2 L409.1 240.8 L408.2 239.3 L407.4 237.7 L406.9 235.9 L406.6 234.1 L406.4 232.3 L406.5 230.4 L406.8 228.5 " stroke="#1a1a1a" stroke-width="1.0" fill="none" stroke-linejoin="round" stroke-linecap="round" />
<path d="M488 232 C485.5 234 485 240 486 245 C487 250 489.5 253 493 254.5 M541.7 232 C544.5 234 545 240 544 245 C543 250 540.5 253 537 254.5" stroke="#1a1a1a" stroke-width="1.15" fill="none" stroke-linejoin="round" stroke-linecap="round" />
<path d="M486.5 236 C495 243.5 534 243.5 543.5 236" stroke="#1a1a1a" stroke-width="1.0" fill="none" stroke-linejoin="round" stroke-linecap="round" />
<path d="M488 250 C500 257 528 257 541.7 250" stroke="#1a1a1a" stroke-width="1.1" fill="none" stroke-linejoin="round" stroke-linecap="round" />
<path d="M493 236 L493 250.5 M500.1 237.5 L500.1 252.5 M528.1 237.5 L528.1 252.5 M534.5 236 L534.5 250.5" stroke="#1a1a1a" stroke-width="1.0" fill="none" stroke-linejoin="round" stroke-linecap="round" />
<path d="M493 241 C503 245 526 245 534.5 241" stroke="#1a1a1a" stroke-width="1.0" fill="none" stroke-linejoin="round" stroke-linecap="round" />
<path d="M490 246 C488 249 488 252 490 254 M539 246 C541 249 541 252 539 254" stroke="#1a1a1a" stroke-width="0.9" fill="none" stroke-linejoin="round" stroke-linecap="round" />
<path d="M481.2 204.6 L480.7 213 A33.8 20 0 0 0 548.9 213 L547.4 204.6" stroke="#1a1a1a" stroke-width="1.15" fill="#fff" stroke-linejoin="round" stroke-linecap="round" />
<path d="M483 219.5 A33 19 0 0 0 546.5 219.5" stroke="#1a1a1a" stroke-width="1.1" fill="none" stroke-linejoin="round" stroke-linecap="round" />
<ellipse cx="514.3" cy="204.6" rx="33.1" ry="19" stroke="#1a1a1a" stroke-width="1.3" fill="#fff"/>
<ellipse cx="514.3" cy="203.6" rx="27.4" ry="15.2" stroke="#1a1a1a" stroke-width="1.15" fill="none"/>
<path d="M491.2 207.5 L491.7 206.4 L492.4 205.3 L493.4 204.3 L494.6 203.3 L495.9 202.3 L497.5 201.5 L499.2 200.7 L501.1 200.0 L503.1 199.4 L505.2 198.9 L507.4 198.5 L509.6 198.2 L512.0 198.1 L514.3 198.0 L516.6 198.1 L519.0 198.2 L521.2 198.5 L523.4 198.9 L525.5 199.4 L527.5 200.0 L529.4 200.7 L531.1 201.5 L532.7 202.3 L534.0 203.3 L535.2 204.3 L536.2 205.3 L536.9 206.4 L537.4 207.5 " stroke="#1a1a1a" stroke-width="1.0" fill="none" stroke-linejoin="round" stroke-linecap="round" />
<path d="M492.1 208.7 L492.7 207.7 L493.6 206.7 L494.6 205.8 L495.8 205.0 L497.2 204.2 L498.7 203.4 L500.3 202.8 L502.1 202.2 L503.9 201.7 L505.9 201.3 L507.9 200.9 L510.0 200.7 L512.2 200.5 L514.3 200.5 L516.4 200.5 L518.6 200.7 L520.7 200.9 L522.7 201.3 L524.7 201.7 L526.5 202.2 L528.3 202.8 L529.9 203.4 L531.4 204.2 L532.8 205.0 L534.0 205.8 L535.0 206.7 L535.9 207.7 L536.5 208.7 " stroke="#1a1a1a" stroke-width="1.6" fill="none" stroke-linejoin="round" stroke-linecap="round" />
<path d="M532.6 208.8 L533.4 210.0 L533.7 211.3 L533.8 212.6 L533.4 213.9 L532.7 215.1 L531.7 216.3 L530.3 217.4 L528.6 218.5 L526.6 219.4 L524.5 220.1 L522.1 220.7 L519.6 221.1 L517.0 221.4 L514.3 221.5 L511.6 221.4 L509.0 221.1 L506.5 220.7 L504.1 220.1 L502.0 219.4 L500.0 218.5 L498.3 217.4 L496.9 216.3 L495.9 215.1 L495.2 213.9 L494.8 212.6 L494.9 211.3 L495.2 210.0 L496.0 208.8 " stroke="#1a1a1a" stroke-width="1.0" fill="none" stroke-linejoin="round" stroke-linecap="round" />
<path d="M538.4 208.3 L537.9 209.5 L537.1 210.7 L536.1 211.9 L534.9 213.1 L533.5 214.1 L531.8 215.1 L530.0 216.0 L528.1 216.7 L526.0 217.4 L523.8 218.0 L521.5 218.4 L519.2 218.7 L516.7 218.9 L514.3 219.0 L511.9 218.9 L509.4 218.7 L507.1 218.4 L504.8 218.0 L502.6 217.4 L500.5 216.7 L498.6 216.0 L496.8 215.1 L495.1 214.1 L493.7 213.1 L492.5 211.9 L491.5 210.7 L490.7 209.5 L490.2 208.3 " stroke="#1a1a1a" stroke-width="1.0" fill="none" stroke-linejoin="round" stroke-linecap="round" />
<path d="M489 194.5 L496.5 189 C498.5 188 499.8 190 498.2 191.3 L491.2 196.8 Z" stroke="#1a1a1a" stroke-width="1.1" fill="#fff" stroke-linejoin="round" stroke-linecap="round" />
<path d="M489.5 213.5 L499 218 C501 219 500.2 221.6 498 220.8 L488.5 216.3 Z" stroke="#1a1a1a" stroke-width="1.1" fill="#fff" stroke-linejoin="round" stroke-linecap="round" />
<path d="M563.0 348.5 C562.6 346.6 560.4 341.2 560.6 337.2 C560.8 333.2 562.1 328.2 564.4 324.4 C566.7 320.6 569.9 316.8 574.4 314.3 C578.9 311.8 586.1 309.5 591.6 309.3 C597.1 309.1 602.9 310.6 607.4 312.9 C611.9 315.2 616.1 319.1 618.8 322.9 C621.5 326.7 623.3 331.0 623.8 335.8 C624.3 340.6 623.2 346.1 621.7 351.6 C620.2 357.1 617.4 362.6 614.5 368.8 C611.6 375.0 607.1 381.7 604.5 388.8 C601.9 395.9 600.3 403.8 598.8 411.7 C597.2 419.6 596.4 430.4 595.2 436.1 C594.0 441.8 593.9 443.1 591.6 446.1 C589.3 449.1 585.7 452.3 581.6 454.0 C577.5 455.7 572.2 456.8 567.2 456.2 C562.2 455.6 555.7 452.8 551.5 450.4 C547.3 448.0 544.1 444.7 542.2 441.8 C540.3 438.9 539.9 437.7 540.0 433.2 C540.1 428.7 541.5 422.0 542.9 414.6 C544.3 407.2 546.5 396.9 548.6 388.8 C550.8 380.7 553.4 372.6 555.8 365.9 C558.2 359.2 561.8 351.4 563.0 348.5 " stroke="#1a1a1a" stroke-width="1.2" fill="none" stroke-linejoin="round" stroke-linecap="round" />
<path d="M569.4 335.8 C567 340 565 345 563 348.5" stroke="#1a1a1a" stroke-width="1.1" fill="none" stroke-linejoin="round" stroke-linecap="round" />
<path d="M104.0 452.0 L118.0 440.0 L140.0 424.0 L150.0 408.0 L158.0 404.0 L186.0 418.0 L200.0 403.0 L221.0 399.0 L240.0 404.0 L252.0 405.0 L273.0 429.0 L262.0 452.0 L275.0 478.0 L290.0 492.0 L299.0 508.0 L297.0 524.0 L288.0 532.0 L278.0 545.0 L278.0 574.0 L256.0 589.0 L236.0 586.0 L228.0 600.0 L215.0 605.0 L189.0 597.0 L160.0 589.0 L142.0 575.0 L126.0 550.0 L118.0 526.0 L114.0 510.0 L105.0 480.0 L100.0 462.0 Z" stroke="none" stroke-width="0" fill="#fff" stroke-linejoin="round" stroke-linecap="round" />
<path d="M115.3 512.2 C115.8 514.6 116.6 520.0 118.4 526.3 C120.2 532.5 122.4 541.6 126.3 549.7 C130.2 557.8 136.2 568.2 141.9 574.7 C147.6 581.2 152.8 585.1 160.6 588.8 C168.4 592.4 179.7 594.0 188.8 596.6 C197.9 599.2 208.5 603.3 215.0 604.4 C221.5 605.5 224.5 604.7 228.0 603.0 C231.5 601.3 234.7 595.5 236.0 594.0 " stroke="#1a1a1a" stroke-width="1.3" fill="none" stroke-linejoin="round" stroke-linecap="round" />
<path d="M122.0 516.0 C122.6 517.5 124.0 519.6 125.5 524.7 C127.0 529.8 127.5 538.8 131.0 546.6 C134.5 554.4 140.9 565.1 146.6 571.6 C152.3 578.1 158.1 582.2 165.3 585.6 C172.5 589.0 185.9 590.9 190.0 592.0 " stroke="#1a1a1a" stroke-width="1.1" fill="none" stroke-linejoin="round" stroke-linecap="round" />
<path d="M130.0 518.0 C130.4 519.1 131.6 520.5 132.5 524.7 C133.4 528.9 132.7 536.1 135.6 543.4 C138.5 550.7 144.0 562.0 149.7 568.4 C155.4 574.8 166.6 579.7 170.0 582.0 " stroke="#1a1a1a" stroke-width="1.1" fill="none" stroke-linejoin="round" stroke-linecap="round" />
<path d="M132.5 540.3 C136.7 540.6 149.2 543.5 157.5 541.9 C165.8 540.3 174.7 536.1 182.5 530.9 C190.3 525.7 198.7 516.2 204.4 510.6 C210.2 505.0 214.9 499.3 217.0 497.0 " stroke="#1a1a1a" stroke-width="1.3" fill="none" stroke-linejoin="round" stroke-linecap="round" />
<path d="M133.3 542.9 C137.5 543.2 150.0 546.1 158.3 544.5 C166.6 542.9 175.5 538.7 183.3 533.5 C191.1 528.3 199.5 518.9 205.2 513.2 C211.0 507.6 215.7 501.9 217.8 499.6 " stroke="#1a1a1a" stroke-width="1.1" fill="none" stroke-linejoin="round" stroke-linecap="round" />
<path d="M140.3 555.2 C144.0 555.6 154.1 559.7 162.2 557.5 C170.3 555.3 180.0 549.2 188.8 541.9 C197.6 534.6 208.5 520.8 215.0 513.8 C221.5 506.8 225.8 502.3 228.0 500.0 " stroke="#1a1a1a" stroke-width="1.3" fill="none" stroke-linejoin="round" stroke-linecap="round" />
<path d="M141.1 557.8 C144.8 558.2 154.9 562.3 163.0 560.1 C171.1 557.9 180.8 551.8 189.6 544.5 C198.4 537.2 209.3 523.4 215.8 516.4 C222.3 509.4 226.6 504.9 228.8 502.6 " stroke="#1a1a1a" stroke-width="1.1" fill="none" stroke-linejoin="round" stroke-linecap="round" />
<path d="M146.6 570.8 C150.5 570.9 162.4 573.3 170.0 571.6 C177.6 569.9 184.4 565.8 191.9 560.6 C199.4 555.4 208.3 547.1 215.0 540.3 C221.7 533.5 229.2 523.4 232.0 520.0 " stroke="#1a1a1a" stroke-width="1.3" fill="none" stroke-linejoin="round" stroke-linecap="round" />
<path d="M147.4 573.4 C151.3 573.5 163.2 575.9 170.8 574.2 C178.4 572.5 185.2 568.4 192.7 563.2 C200.2 558.0 209.1 549.7 215.8 542.9 C222.5 536.1 230.0 526.0 232.8 522.6 " stroke="#1a1a1a" stroke-width="1.1" fill="none" stroke-linejoin="round" stroke-linecap="round" />
<path d="M160.6 584.0 C164.2 583.8 176.5 583.8 182.5 582.5 C188.5 581.2 191.2 579.9 196.6 576.3 C202.0 572.6 209.1 566.3 215.0 560.6 C220.9 554.9 229.2 545.1 232.0 542.0 " stroke="#1a1a1a" stroke-width="1.3" fill="none" stroke-linejoin="round" stroke-linecap="round" />
<path d="M161.4 586.6 C165.1 586.4 177.3 586.4 183.3 585.1 C189.3 583.8 192.0 582.5 197.4 578.9 C202.8 575.2 209.9 568.9 215.8 563.2 C221.7 557.5 230.0 547.7 232.8 544.6 " stroke="#1a1a1a" stroke-width="1.1" fill="none" stroke-linejoin="round" stroke-linecap="round" />
<path d="M177.2 548.0 L182.2 545.5 M178.2 553.7 L183.7 551.0" stroke="#1a1a1a" stroke-width="1.0" fill="none" stroke-linejoin="round" stroke-linecap="round" />
<ellipse cx="183.2" cy="548.3" rx="2.4" ry="3.1" stroke="#1a1a1a" stroke-width="1.1" fill="#fff" transform="rotate(-25 183.2 548.3)"/>
<path d="M195.1 573.8 L200.1 571.3 M196.1 579.5 L201.6 576.8" stroke="#1a1a1a" stroke-width="1.0" fill="none" stroke-linejoin="round" stroke-linecap="round" />
<ellipse cx="201.1" cy="574.0999999999999" rx="2.4" ry="3.1" stroke="#1a1a1a" stroke-width="1.1" fill="#fff" transform="rotate(-25 201.1 574.0999999999999)"/>
<path d="M190.0 592.0 C192.5 591.7 199.7 592.0 205.0 590.0 C210.3 588.0 217.8 582.2 222.0 580.0 C226.2 577.8 228.7 577.5 230.0 577.0 " stroke="#1a1a1a" stroke-width="1.1" fill="none" stroke-linejoin="round" stroke-linecap="round" />
<path d="M215.0 604.4 C216.2 603.7 220.2 601.7 222.0 600.0 C223.8 598.3 224.3 595.7 226.0 594.0 C227.7 592.3 229.7 591.0 232.0 590.0 C234.3 589.0 238.7 588.3 240.0 588.0 " stroke="#1a1a1a" stroke-width="1.3" fill="none" stroke-linejoin="round" stroke-linecap="round" />
<ellipse cx="222.8" cy="597.7" rx="3.2" ry="2.2" stroke="#1a1a1a" stroke-width="1.0" fill="none" transform="rotate(-30 222.8 597.7)"/>
<path d="M236 586 C240 590 246 590 250 586" stroke="#1a1a1a" stroke-width="1.1" fill="none" stroke-linejoin="round" stroke-linecap="round" />
<path d="M112.0 506.0 C112.7 507.0 112.0 510.3 116.0 512.0 C120.0 513.7 128.7 514.8 136.0 516.0 C143.3 517.2 153.3 518.2 160.0 519.0 C166.7 519.8 172.3 521.5 176.0 521.0 C179.7 520.5 180.3 517.5 182.0 516.0 C183.7 514.5 185.3 512.7 186.0 512.0 " stroke="#1a1a1a" stroke-width="1.3" fill="none" stroke-linejoin="round" stroke-linecap="round" />
<path d="M114.0 510.5 C116.0 511.9 122.2 517.3 126.0 519.0 C129.8 520.7 134.7 520.6 137.0 520.5 C139.3 520.4 136.2 518.2 140.0 518.5 C143.8 518.8 154.0 521.5 160.0 522.5 C166.0 523.5 172.0 524.9 176.0 524.5 C180.0 524.1 181.7 521.8 184.0 520.0 C186.3 518.2 189.0 515.0 190.0 514.0 " stroke="#1a1a1a" stroke-width="1.5" fill="none" stroke-linejoin="round" stroke-linecap="round" />
<ellipse cx="180.3" cy="517.5" rx="1.6" ry="2.6" stroke="#1a1a1a" stroke-width="0.9" fill="none" transform="rotate(30 180.3 517.5)"/>
<path d="M201.0 441.0 C201.9 442.0 205.3 442.5 206.5 447.0 C207.7 451.5 209.2 461.0 208.0 468.0 C206.8 475.0 203.5 482.6 199.5 489.0 C195.5 495.4 188.9 502.2 184.0 506.5 C179.1 510.8 175.7 513.2 170.0 515.0 C164.3 516.8 158.0 516.9 150.0 517.5 C142.0 518.1 128.2 519.2 122.0 518.5 C115.8 517.8 114.5 513.9 113.0 513.0 " stroke="#1a1a1a" stroke-width="1.4" fill="none" stroke-linejoin="round" stroke-linecap="round" />
<path d="M154.4 414.5 C156.1 413.9 153.0 410.0 160.0 414.0 C167.0 418.0 198.1 438.0 204.4 443.0 C210.7 448.0 205.9 445.4 205.0 450.0 C204.1 454.6 200.9 469.4 198.0 476.0 C195.1 482.6 188.1 492.4 184.5 497.0 C180.9 501.6 176.8 506.6 172.0 508.5 C167.2 510.4 157.6 510.0 150.0 510.5 C142.4 511.0 123.5 513.0 118.0 512.0 C112.5 510.9 112.6 507.2 110.5 503.0 C108.4 498.8 104.7 487.7 103.0 482.0 C101.3 476.3 98.5 466.1 98.5 462.0 C98.5 457.9 100.2 455.4 103.0 452.5 C105.8 449.6 113.4 444.6 118.4 441.0 C123.4 437.4 134.7 430.2 138.8 427.0 C142.9 423.8 145.8 419.8 148.0 418.0 C150.2 416.2 152.7 415.1 154.4 414.5 Z" stroke="#1a1a1a" stroke-width="1.3" fill="#fff" stroke-linejoin="round" stroke-linecap="round" />
<path d="M155.0 420.5 C156.5 419.9 154.1 417.5 160.0 421.0 C165.9 424.5 191.7 441.2 197.0 445.5 C202.3 449.8 198.7 448.0 198.0 452.0 C197.3 456.0 194.5 468.3 192.0 474.0 C189.5 479.7 183.2 489.1 180.0 493.0 C176.8 496.9 173.2 500.5 169.0 502.0 C164.8 503.5 156.6 503.5 150.0 504.0 C143.4 504.5 126.8 506.2 122.0 505.5 C117.2 504.8 117.4 502.6 115.5 499.0 C113.6 495.4 110.0 484.9 108.5 480.0 C107.0 475.1 105.1 467.2 105.0 464.0 C104.9 460.8 105.8 459.5 108.0 457.0 C110.2 454.5 116.4 449.4 121.0 446.0 C125.6 442.6 137.1 435.4 141.0 432.5 C144.9 429.6 147.0 426.7 149.0 425.0 C151.0 423.3 153.5 421.1 155.0 420.5 Z" stroke="#1a1a1a" stroke-width="1.1" fill="none" stroke-linejoin="round" stroke-linecap="round" />
<path d="M152.8 443.0 L158.1 425.3 Q160.2 423.9 161.0 426.3 L154.9 443.7" stroke="#1a1a1a" stroke-width="1.15" fill="none" stroke-linejoin="round" stroke-linecap="round" />
<path d="M156.3 444.3 L164.6 427.8 Q166.9 426.7 167.3 429.2 L158.2 445.3" stroke="#1a1a1a" stroke-width="1.15" fill="none" stroke-linejoin="round" stroke-linecap="round" />
<path d="M159.6 446.2 L173.8 426.9 Q176.4 426.4 176.6 429.0 L161.3 447.5" stroke="#1a1a1a" stroke-width="1.15" fill="none" stroke-linejoin="round" stroke-linecap="round" />
<path d="M162.4 448.6 L179.8 432.1 Q182.5 432.0 182.2 434.7 L163.9 450.2" stroke="#1a1a1a" stroke-width="1.15" fill="none" stroke-linejoin="round" stroke-linecap="round" />
<path d="M164.8 451.5 L184.8 438.2 Q187.5 438.6 186.7 441.2 L166.0 453.3" stroke="#1a1a1a" stroke-width="1.15" fill="none" stroke-linejoin="round" stroke-linecap="round" />
<path d="M166.7 454.8 L188.7 445.1 Q191.2 446.0 190.0 448.4 L167.5 456.8" stroke="#1a1a1a" stroke-width="1.15" fill="none" stroke-linejoin="round" stroke-linecap="round" />
<path d="M168.0 458.3 L191.3 452.6 Q193.7 453.9 192.0 456.1 L168.4 460.4" stroke="#1a1a1a" stroke-width="1.15" fill="none" stroke-linejoin="round" stroke-linecap="round" />
<path d="M168.6 462.0 L192.6 460.5 Q194.7 462.1 192.7 464.0 L168.7 464.1" stroke="#1a1a1a" stroke-width="1.15" fill="none" stroke-linejoin="round" stroke-linecap="round" />
<path d="M168.6 465.7 L192.5 468.4 Q194.2 470.4 192.0 471.9 L168.3 467.9" stroke="#1a1a1a" stroke-width="1.15" fill="none" stroke-linejoin="round" stroke-linecap="round" />
<path d="M168.0 469.4 L191.0 476.2 Q192.4 478.5 189.9 479.5 L167.3 471.5" stroke="#1a1a1a" stroke-width="1.15" fill="none" stroke-linejoin="round" stroke-linecap="round" />
<path d="M166.7 472.9 L188.2 483.6 Q189.1 486.1 186.5 486.7 L165.7 474.8" stroke="#1a1a1a" stroke-width="1.15" fill="none" stroke-linejoin="round" stroke-linecap="round" />
<path d="M164.8 476.2 L184.1 490.4 Q184.6 493.0 182.0 493.2 L163.5 477.9" stroke="#1a1a1a" stroke-width="1.15" fill="none" stroke-linejoin="round" stroke-linecap="round" />
<path d="M162.4 479.0 L178.9 496.4 Q179.0 499.1 176.3 498.8 L160.8 480.5" stroke="#1a1a1a" stroke-width="1.15" fill="none" stroke-linejoin="round" stroke-linecap="round" />
<path d="M159.5 481.4 L172.8 501.4 Q172.4 504.1 169.8 503.3 L157.7 482.6" stroke="#1a1a1a" stroke-width="1.15" fill="none" stroke-linejoin="round" stroke-linecap="round" />
<path d="M156.2 483.3 L164.4 502.1 Q163.7 504.6 161.4 503.3 L154.2 484.1" stroke="#1a1a1a" stroke-width="1.15" fill="none" stroke-linejoin="round" stroke-linecap="round" />
<path d="M152.7 484.6 L157.5 504.5 Q156.3 506.8 154.3 505.2 L150.6 485.0" stroke="#1a1a1a" stroke-width="1.15" fill="none" stroke-linejoin="round" stroke-linecap="round" />
<path d="M149.0 485.2 L150.0 502.2 Q148.6 504.3 147.1 502.3 L146.9 485.3" stroke="#1a1a1a" stroke-width="1.15" fill="none" stroke-linejoin="round" stroke-linecap="round" />
<path d="M145.3 485.2 L143.8 497.6 Q142.2 499.4 141.2 497.3 L143.1 484.9" stroke="#1a1a1a" stroke-width="1.15" fill="none" stroke-linejoin="round" stroke-linecap="round" />
<path d="M141.6 484.6 L137.9 496.5 Q136.1 498.0 135.5 495.7 L139.5 483.9" stroke="#1a1a1a" stroke-width="1.15" fill="none" stroke-linejoin="round" stroke-linecap="round" />
<path d="M150.8 443.6 L153.2 444.2 L155.5 445.1 L157.7 446.2 L159.8 447.6 L161.7 449.3 L163.3 451.1 L164.7 453.2 L165.9 455.4 L166.8 457.7 L167.4 460.1 L167.7 462.6 L167.7 465.1 L167.4 467.5 L166.8 470.0 L165.9 472.3 L164.7 474.5 L163.3 476.5 L161.6 478.4 L159.7 480.0 L157.7 481.4 L155.5 482.6 L153.1 483.4 L150.7 484.0 L148.2 484.3 L145.7 484.2 L143.3 483.9 L140.9 483.3 L138.5 482.4 " stroke="#1a1a1a" stroke-width="1.3" fill="none" stroke-linejoin="round" stroke-linecap="round" />
<path d="M151.7 446.9 L153.5 447.5 L155.3 448.3 L156.9 449.2 L158.4 450.4 L159.8 451.7 L161.1 453.1 L162.2 454.7 L163.1 456.4 L163.8 458.2 L164.3 460.0 L164.6 461.9 L164.7 463.8 L164.6 465.7 L164.3 467.6 L163.8 469.4 L163.1 471.2 L162.2 472.9 L161.1 474.5 L159.8 475.9 L158.4 477.2 L156.9 478.4 L155.3 479.3 L153.5 480.1 L151.7 480.7 L149.9 481.1 L148.0 481.3 L146.1 481.3 L144.2 481.0 " stroke="#1a1a1a" stroke-width="1.1" fill="none" stroke-linejoin="round" stroke-linecap="round" />
<path d="M143.8 444.5 C144.5 444.4 146.1 444.2 148.0 444.2 C149.9 444.2 152.9 444.2 155.0 444.6 C157.1 445.0 158.7 444.9 160.5 446.6 C162.3 448.3 164.8 452.1 165.7 454.9 C166.6 457.7 166.2 461.4 166.2 463.3 C166.2 465.2 165.8 465.9 165.7 466.4 " stroke="#1a1a1a" stroke-width="1.45" fill="none" stroke-linejoin="round" stroke-linecap="round" />
<path d="M148.0 447.6 C149.4 448.1 154.1 449.1 156.3 450.8 C158.6 452.5 160.8 456.1 161.5 458.0 C162.2 459.9 160.7 461.5 160.5 462.2 " stroke="#1a1a1a" stroke-width="1.45" fill="none" stroke-linejoin="round" stroke-linecap="round" />
<path d="M123 449.7 C130 447.5 137 445.5 143.8 444.5 C146.5 444.6 148 446 148 447.6 C147.6 451 146 454 143.8 456 C140.5 459.5 137 461.5 133.4 463.3 C132 465 131 466 130.3 466.4 C128.5 465.8 127 464.6 126.1 463.3 Z" stroke="#1a1a1a" stroke-width="1.45" fill="#fff" stroke-linejoin="round" stroke-linecap="round" />
<path d="M130.3 466.4 C130.8 467.4 131.8 471.0 133.4 472.6 C135.0 474.2 138.1 475.6 139.7 475.8 C141.3 476.0 142.3 474.1 142.8 473.7 " stroke="#1a1a1a" stroke-width="1.45" fill="none" stroke-linejoin="round" stroke-linecap="round" />
<path d="M133.4 463.3 C133.8 464.2 134.7 467.5 136.0 469.0 C137.3 470.5 140.2 471.9 141.0 472.5 " stroke="#1a1a1a" stroke-width="1.1" fill="none" stroke-linejoin="round" stroke-linecap="round" />
<path d="M107.4 455.4 L123 451.3 L125.1 462.2 L109.5 465.3 Z" stroke="#1a1a1a" stroke-width="1.45" fill="#fff" stroke-linejoin="round" stroke-linecap="round" />
<path d="M123 449.7 L123 451.3 M125.1 462.2 L126.1 463.3 M110.8 454.6 L112.6 464.6 M113.4 453.9 L115.2 464.1" stroke="#1a1a1a" stroke-width="1.1" fill="none" stroke-linejoin="round" stroke-linecap="round" />
<ellipse cx="104.0" cy="460.3" rx="3.6" ry="6.0" stroke="#1a1a1a" stroke-width="1.9" fill="#fff" transform="rotate(-12 104.0 460.3)"/>
<ellipse cx="103.4" cy="460.6" rx="1.8" ry="3.6" stroke="#1a1a1a" stroke-width="1.2" fill="none" transform="rotate(-12 103.4 460.6)"/>
<path d="M131.3 484.1 L154.3 462.2 C158 460.5 163 461.5 164.7 463.3 C165.8 464.5 166 465.5 165.7 466.4 C164 471 162 475 160.5 478.9 C158.8 483 157.4 487 156.3 490.3 C155.4 495 154.8 499 154.3 502.8 L150.5 502.5 C151 497 151.6 491.5 152.2 486.2 C151.5 483 150.3 480 149 477.8 L137.6 493.5 Z" stroke="#1a1a1a" stroke-width="1.45" fill="#fff" stroke-linejoin="round" stroke-linecap="round" />
<path d="M142.8 473.7 C143.3 473.9 145.0 474.3 146.0 475.0 C147.0 475.7 148.5 477.3 149.0 477.8 " stroke="#1a1a1a" stroke-width="1.45" fill="none" stroke-linejoin="round" stroke-linecap="round" />
<path d="M154.3 462.2 C157 464.5 158.6 467.5 158.4 470.5 C156 473.5 152.5 476 149 477.8" stroke="#1a1a1a" stroke-width="1.2" fill="none" stroke-linejoin="round" stroke-linecap="round" />
<path d="M134.8 481 L140.9 489.3 M137.3 478.6 L143.5 486.6" stroke="#1a1a1a" stroke-width="1.1" fill="none" stroke-linejoin="round" stroke-linecap="round" />
<ellipse cx="133.4" cy="489.3" rx="3.4" ry="5.7" stroke="#1a1a1a" stroke-width="1.4" fill="#fff" transform="rotate(40 133.4 489.3)"/>
<path d="M112 476 L122 470 L122.8 471.8 L113.2 477.6 Z" stroke="#1a1a1a" stroke-width="1.0" fill="none" stroke-linejoin="round" stroke-linecap="round" />
<path d="M113.5 483 L125 476 L125.8 477.8 L114.7 484.6 Z" stroke="#1a1a1a" stroke-width="1.0" fill="none" stroke-linejoin="round" stroke-linecap="round" />
<path d="M116 490 L127.5 482 L128.3 483.8 L117.2 491.6 Z" stroke="#1a1a1a" stroke-width="1.0" fill="none" stroke-linejoin="round" stroke-linecap="round" />
<path d="M120 496 L130 489 L130.8 490.8 L121.2 497.6 Z" stroke="#1a1a1a" stroke-width="1.0" fill="none" stroke-linejoin="round" stroke-linecap="round" />
<path d="M126 500 L133 494 L133.8 495.8 L127.2 501.6 Z" stroke="#1a1a1a" stroke-width="1.0" fill="none" stroke-linejoin="round" stroke-linecap="round" />
<path d="M134 503 L140 496 L140.8 497.8 L135.2 504.6 Z" stroke="#1a1a1a" stroke-width="1.0" fill="none" stroke-linejoin="round" stroke-linecap="round" />
<path d="M128 434 L138 441" stroke="#1a1a1a" stroke-width="1.1" fill="none" stroke-linejoin="round" stroke-linecap="round" />
<path d="M135 429 L145 436.5" stroke="#1a1a1a" stroke-width="1.1" fill="none" stroke-linejoin="round" stroke-linecap="round" />
<path d="M143 425 L151 432" stroke="#1a1a1a" stroke-width="1.1" fill="none" stroke-linejoin="round" stroke-linecap="round" />
<ellipse cx="154.4" cy="421.6" rx="5.9" ry="5.5" stroke="#1a1a1a" stroke-width="1.0" fill="#fff"/>
<ellipse cx="154.4" cy="421.6" rx="4.3" ry="3.87" stroke="#1a1a1a" stroke-width="1.1" fill="#fff"/>
<ellipse cx="154.0" cy="420.8" rx="2.365" ry="2.15" stroke="#1a1a1a" stroke-width="0.9" fill="none"/>
<ellipse cx="198.1" cy="446.6" rx="5.9" ry="5.5" stroke="#1a1a1a" stroke-width="1.0" fill="#fff"/>
<ellipse cx="198.1" cy="446.6" rx="4.3" ry="3.87" stroke="#1a1a1a" stroke-width="1.1" fill="#fff"/>
<ellipse cx="197.7" cy="445.8" rx="2.365" ry="2.15" stroke="#1a1a1a" stroke-width="0.9" fill="none"/>
<ellipse cx="167.7" cy="502.8" rx="5.9" ry="5.5" stroke="#1a1a1a" stroke-width="1.0" fill="#fff"/>
<ellipse cx="167.7" cy="502.8" rx="4.3" ry="3.87" stroke="#1a1a1a" stroke-width="1.1" fill="#fff"/>
<ellipse cx="167.29999999999998" cy="502.0" rx="2.365" ry="2.15" stroke="#1a1a1a" stroke-width="0.9" fill="none"/>
<ellipse cx="118.4" cy="505.2" rx="5.9" ry="5.5" stroke="#1a1a1a" stroke-width="1.0" fill="#fff"/>
<ellipse cx="118.4" cy="505.2" rx="4.3" ry="3.87" stroke="#1a1a1a" stroke-width="1.1" fill="#fff"/>
<ellipse cx="118.0" cy="504.4" rx="2.365" ry="2.15" stroke="#1a1a1a" stroke-width="0.9" fill="none"/>
<ellipse cx="103.4" cy="460" rx="2" ry="2" stroke="#1a1a1a" stroke-width="0" fill="none"/>
<path d="M150 409.5 L156 404.5 L162 406 L224 449 M147.5 414 L153 410.8 L218 455.5" stroke="#1a1a1a" stroke-width="1.3" fill="none" stroke-linejoin="round" stroke-linecap="round" />
<path d="M156 404.5 L156.5 410 M162 406 L162.5 412" stroke="#1a1a1a" stroke-width="1.1" fill="none" stroke-linejoin="round" stroke-linecap="round" />
<path d="M157.3 411.3 L157.3 406.3 L162.3 403.8 L164.8 406.8 L164.8 411.8" stroke="#1a1a1a" stroke-width="1.0" fill="#fff" stroke-linejoin="round" stroke-linecap="round" />
<ellipse cx="161.0" cy="406.7" rx="3.3" ry="2.0" stroke="#1a1a1a" stroke-width="0.9" fill="none" transform="rotate(20 161.0 406.7)"/>
<path d="M183 425.4 L183 420.4 L188 417.9 L190.5 420.9 L190.5 425.9" stroke="#1a1a1a" stroke-width="1.0" fill="#fff" stroke-linejoin="round" stroke-linecap="round" />
<ellipse cx="186.7" cy="420.79999999999995" rx="3.3" ry="2.0" stroke="#1a1a1a" stroke-width="0.9" fill="none" transform="rotate(20 186.7 420.79999999999995)"/>
<path d="M217 460.5 L217 455.5 L222 453.0 L224.5 456.0 L224.5 461.0" stroke="#1a1a1a" stroke-width="1.0" fill="#fff" stroke-linejoin="round" stroke-linecap="round" />
<ellipse cx="220.7" cy="455.9" rx="3.3" ry="2.0" stroke="#1a1a1a" stroke-width="0.9" fill="none" transform="rotate(20 220.7 455.9)"/>
<path d="M188.4 419.8 C189.2 418.2 191.1 412.7 193.0 410.0 C194.9 407.3 197.3 405.1 200.1 403.4 C202.9 401.7 206.5 400.6 210.0 400.0 C213.5 399.4 217.5 399.6 221.2 399.9 C224.9 400.2 228.9 401.0 232.0 402.0 C235.1 403.0 238.7 405.2 240.0 405.8 " stroke="#1a1a1a" stroke-width="1.3" fill="none" stroke-linejoin="round" stroke-linecap="round" />
<path d="M203.0 429.0 C204.5 427.2 208.8 421.3 212.0 418.0 C215.2 414.7 218.7 411.2 222.0 409.0 C225.3 406.8 230.3 405.7 232.0 405.0 " stroke="#1a1a1a" stroke-width="1.1" fill="none" stroke-linejoin="round" stroke-linecap="round" />
<path d="M206.0 432.0 C207.5 430.2 211.8 424.3 215.0 421.0 C218.2 417.7 221.7 414.2 225.0 412.0 C228.3 409.8 233.3 408.2 235.0 407.5 " stroke="#1a1a1a" stroke-width="1.1" fill="none" stroke-linejoin="round" stroke-linecap="round" />
<path d="M209.0 434.5 C210.5 432.8 214.8 427.2 218.0 424.0 C221.2 420.8 226.3 416.5 228.0 415.0 " stroke="#1a1a1a" stroke-width="1.1" fill="none" stroke-linejoin="round" stroke-linecap="round" />
<path d="M240.0 405.8 C238.2 406.2 232.2 406.5 229.0 408.5 C225.8 410.5 222.7 414.2 221.0 418.0 C219.3 421.8 218.5 427.0 218.6 431.0 C218.7 435.0 219.8 438.7 221.5 442.0 C223.2 445.3 227.8 449.5 229.0 451.0 " stroke="#1a1a1a" stroke-width="1.3" fill="#fff" stroke-linejoin="round" stroke-linecap="round" />
<ellipse cx="249.5" cy="429" rx="23.4" ry="23.8" stroke="#1a1a1a" stroke-width="1.9" fill="#fff"/>
<ellipse cx="250" cy="429.2" rx="20.6" ry="21" stroke="#1a1a1a" stroke-width="1.0" fill="none"/>
<path d="M237.0 411.0 C238.2 412.2 242.5 414.8 244.0 418.0 C245.5 421.2 246.2 426.0 246.0 430.0 C245.8 434.0 244.3 438.8 243.0 442.0 C241.7 445.2 238.8 447.8 238.0 449.0 " stroke="#1a1a1a" stroke-width="1.1" fill="none" stroke-linejoin="round" stroke-linecap="round" />
<path d="M238 412 L245 414.5 L243 418.5" stroke="#1a1a1a" stroke-width="1.1" fill="none" stroke-linejoin="round" stroke-linecap="round" />
<path d="M222 446 L228 451 L236 455 L240 452 M224 452 L232 458 L226 464 L218 459 Z" stroke="#1a1a1a" stroke-width="1.1" fill="none" stroke-linejoin="round" stroke-linecap="round" />
<path d="M232 458 L250 470 M226 464 L240 476" stroke="#1a1a1a" stroke-width="1.1" fill="none" stroke-linejoin="round" stroke-linecap="round" />
<path d="M239.4 467.2 C241.2 467.2 246.7 466.9 250.0 467.5 C253.3 468.1 255.3 468.2 259.5 470.8 C263.7 473.4 269.7 478.1 275.2 483.0 C280.7 487.9 288.6 495.4 292.4 500.2 C296.2 505.0 297.7 507.6 298.2 511.6 C298.7 515.6 296.7 521.1 295.3 524.5 C293.9 527.9 290.6 530.5 289.6 531.7 " stroke="#1a1a1a" stroke-width="1.4" fill="#fff" stroke-linejoin="round" stroke-linecap="round" />
<path d="M259.5 470.8 C260.8 472.0 264.9 475.1 267.0 478.0 C269.1 480.9 270.3 484.3 272.0 488.0 C273.7 491.7 275.5 496.7 277.0 500.0 C278.5 503.3 280.0 505.8 281.0 508.0 C282.0 510.2 282.7 512.2 283.0 513.0 " stroke="#1a1a1a" stroke-width="1.3" fill="none" stroke-linejoin="round" stroke-linecap="round" />
<path d="M257.5 482.0 C258.6 483.3 262.1 487.0 264.0 490.0 C265.9 493.0 267.7 497.0 269.0 500.0 C270.3 503.0 271.5 506.7 272.0 508.0 " stroke="#1a1a1a" stroke-width="1.1" fill="none" stroke-linejoin="round" stroke-linecap="round" />
<path d="M287.0 497.0 C287.7 498.0 290.0 500.7 291.0 503.0 C292.0 505.3 293.0 508.7 293.0 511.0 C293.0 513.3 291.3 516.0 291.0 517.0 " stroke="#1a1a1a" stroke-width="1.3" fill="none" stroke-linejoin="round" stroke-linecap="round" />
<path d="M289.0 509.0 C289.3 509.7 290.8 511.5 291.0 513.0 C291.2 514.5 290.5 516.8 290.0 518.0 C289.5 519.2 288.3 519.7 288.0 520.0 " stroke="#1a1a1a" stroke-width="1.1" fill="none" stroke-linejoin="round" stroke-linecap="round" />
<path d="M283 513 L278 518 L270 512 M283 513 L290 519 L296 524" stroke="#1a1a1a" stroke-width="1.1" fill="none" stroke-linejoin="round" stroke-linecap="round" />
<path d="M262 503 L268 507 L283 526 L289.6 531.7 M268 507 L272 503" stroke="#1a1a1a" stroke-width="1.3" fill="none" stroke-linejoin="round" stroke-linecap="round" />
<path d="M258 507 L262 503 L266 506 M258 507 L258 512 L262 515" stroke="#1a1a1a" stroke-width="1.1" fill="none" stroke-linejoin="round" stroke-linecap="round" />
<path d="M245.7 476.6 L245.7 472.6 L248.7 470.6 L252.2 472.6 L252.2 476.90000000000003 L249.2 478.6 Z" stroke="#1a1a1a" stroke-width="1.1" fill="#fff" stroke-linejoin="round" stroke-linecap="round" />
<path d="M245.7 472.6 L249.2 474.6 L252.2 472.6 M249.2 474.6 L249.2 478.6" stroke="#1a1a1a" stroke-width="0.9" fill="none" stroke-linejoin="round" stroke-linecap="round" />
<path d="M265.8 503.8 L265.8 499.8 L268.8 497.8 L272.3 499.8 L272.3 504.1 L269.3 505.8 Z" stroke="#1a1a1a" stroke-width="1.1" fill="#fff" stroke-linejoin="round" stroke-linecap="round" />
<path d="M265.8 499.8 L269.3 501.8 L272.3 499.8 M269.3 501.8 L269.3 505.8" stroke="#1a1a1a" stroke-width="0.9" fill="none" stroke-linejoin="round" stroke-linecap="round" />
<path d="M284.4 529.6 L284.4 525.6 L287.4 523.6 L290.9 525.6 L290.9 529.9 L287.9 531.6 Z" stroke="#1a1a1a" stroke-width="1.1" fill="#fff" stroke-linejoin="round" stroke-linecap="round" />
<path d="M284.4 525.6 L287.9 527.6 L290.9 525.6 M287.9 527.6 L287.9 531.6" stroke="#1a1a1a" stroke-width="0.9" fill="none" stroke-linejoin="round" stroke-linecap="round" />
<path d="M230.8 475.8 L242 483.2 M226 486 L240.5 494" stroke="#1a1a1a" stroke-width="1.3" fill="none" stroke-linejoin="round" stroke-linecap="round" />
<path d="M222.5 478 C225 474.5 229 474 230.8 475.8 M222.5 478 C221 481.5 223 485 226 486" stroke="#1a1a1a" stroke-width="1.3" fill="none" stroke-linejoin="round" stroke-linecap="round" />
<ellipse cx="244.4" cy="488.7" rx="4.5" ry="5.9" stroke="#1a1a1a" stroke-width="1.4" fill="#fff" transform="rotate(25 244.4 488.7)"/>
<ellipse cx="244.7" cy="489" rx="2.2" ry="2.9" stroke="#1a1a1a" stroke-width="1.2" fill="none" transform="rotate(25 244.7 489)"/>
<ellipse cx="245" cy="489.2" rx="1.0" ry="1.4" stroke="#1a1a1a" stroke-width="0.9" fill="none" transform="rotate(25 245 489.2)"/>
<path d="M236 503.5 L247 509.8 M233 513.5 L246 521.5" stroke="#1a1a1a" stroke-width="1.3" fill="none" stroke-linejoin="round" stroke-linecap="round" />
<path d="M236 503.5 C233 504 231.5 507 232 510 C232.3 512 232.8 513 233 513.5" stroke="#1a1a1a" stroke-width="1.3" fill="none" stroke-linejoin="round" stroke-linecap="round" />
<ellipse cx="250.2" cy="515.9" rx="5.1" ry="6.5" stroke="#1a1a1a" stroke-width="1.5" fill="#fff" transform="rotate(25 250.2 515.9)"/>
<ellipse cx="250.6" cy="516.2" rx="2.3" ry="3.1" stroke="#1a1a1a" stroke-width="1.4" fill="none" transform="rotate(25 250.6 516.2)"/>
<path d="M250.9 452.9 L222.2 484.4 M246 451 L218 481" stroke="#1a1a1a" stroke-width="1.3" fill="none" stroke-linejoin="round" stroke-linecap="round" />
<path d="M205 450 L229 466 M202 456 L224 471" stroke="#1a1a1a" stroke-width="1.3" fill="none" stroke-linejoin="round" stroke-linecap="round" />
<path d="M211 468 L234 497 M207.5 471.5 L230 500" stroke="#1a1a1a" stroke-width="1.3" fill="none" stroke-linejoin="round" stroke-linecap="round" />
<path d="M196 482 L222 498 L222 510 M192 488 L216 503" stroke="#1a1a1a" stroke-width="1.3" fill="none" stroke-linejoin="round" stroke-linecap="round" />
<path d="M214 492 C217 489 221 489 224 491 L236 498 M210 497 C210 494 212 492 214 492" stroke="#1a1a1a" stroke-width="1.1" fill="none" stroke-linejoin="round" stroke-linecap="round" />
<path d="M214 500 L236 512 L236 524 M222 498 L232 503" stroke="#1a1a1a" stroke-width="1.1" fill="none" stroke-linejoin="round" stroke-linecap="round" />
<path d="M218 520 L244 506" stroke="#1a1a1a" stroke-width="1.1" fill="none" stroke-linejoin="round" stroke-linecap="round" />
<path d="M258 470 L262 476 M256 490 L262 496 L262 503" stroke="#1a1a1a" stroke-width="1.1" fill="none" stroke-linejoin="round" stroke-linecap="round" />
<path d="M262 496 L275 510 M259 520 L266 528 L276 522" stroke="#1a1a1a" stroke-width="1.1" fill="none" stroke-linejoin="round" stroke-linecap="round" />
<path d="M211.1 483.5 L211.1 479.5 L214.6 477.5 L217.1 480.0 L217.1 483.7 L214.1 485.0 Z" stroke="#1a1a1a" stroke-width="1.0" fill="#fff" stroke-linejoin="round" stroke-linecap="round" />
<path d="M219.7 503.6 L219.7 499.6 L223.2 497.6 L225.7 500.1 L225.7 503.8 L222.7 505.1 Z" stroke="#1a1a1a" stroke-width="1.0" fill="#fff" stroke-linejoin="round" stroke-linecap="round" />
<path d="M247 521 L226.0 540.0" stroke="#1a1a1a" stroke-width="0.8" fill="none" stroke-linejoin="round" stroke-linecap="round" />
<path d="M247 521 L228.2 538.8" stroke="#1a1a1a" stroke-width="0.8" fill="none" stroke-linejoin="round" stroke-linecap="round" />
<path d="M247 521 L230.4 537.6" stroke="#1a1a1a" stroke-width="0.8" fill="none" stroke-linejoin="round" stroke-linecap="round" />
<path d="M247 521 L232.6 536.4" stroke="#1a1a1a" stroke-width="0.8" fill="none" stroke-linejoin="round" stroke-linecap="round" />
<path d="M247 521 L234.8 535.2" stroke="#1a1a1a" stroke-width="0.8" fill="none" stroke-linejoin="round" stroke-linecap="round" />
<path d="M247 521 L237.0 534.0" stroke="#1a1a1a" stroke-width="0.8" fill="none" stroke-linejoin="round" stroke-linecap="round" />
<path d="M230.6 543.8 L254.1 581.3 L277.5 568.8 L257.2 535.9" stroke="#1a1a1a" stroke-width="1.3" fill="#fff" stroke-linejoin="round" stroke-linecap="round" />
<path d="M234.5 543 L255 575.5 L272.5 566 M230.6 543.8 L236 540 M252 532 L257.2 535.9" stroke="#1a1a1a" stroke-width="1.1" fill="none" stroke-linejoin="round" stroke-linecap="round" />
<path d="M229.1 576.6 L254.1 582 L277.5 569.5 L277.5 574.2 L254.8 588.3 L229.1 582 Z" stroke="#1a1a1a" stroke-width="1.3" fill="#fff" stroke-linejoin="round" stroke-linecap="round" />
<path d="M254.1 582 L254.8 588.3" stroke="#1a1a1a" stroke-width="1.1" fill="none" stroke-linejoin="round" stroke-linecap="round" />
<ellipse cx="257.2" cy="570.3" rx="7" ry="4" stroke="#1a1a1a" stroke-width="1.3" fill="#fff"/>
<ellipse cx="257.4" cy="571.6" rx="4.4" ry="2.3" stroke="#1a1a1a" stroke-width="1.0" fill="none"/>
<ellipse cx="258.5" cy="586" rx="1.6" ry="2.2" stroke="#1a1a1a" stroke-width="0.9" fill="none"/>
<ellipse cx="273" cy="576" rx="1.4" ry="2" stroke="#1a1a1a" stroke-width="0.9" fill="none"/>
<path d="M209 522 L229 528 L247 520 M209 522 L210 528 M212 528 L230.6 543.8 M229 528 L229 556" stroke="#1a1a1a" stroke-width="1.1" fill="none" stroke-linejoin="round" stroke-linecap="round" />
<path d="M229.1 556 L229.1 576.6 M238 520 L238 556" stroke="#1a1a1a" stroke-width="1.1" fill="none" stroke-linejoin="round" stroke-linecap="round" />
<ellipse cx="207.5" cy="526" rx="1.4" ry="2.4" stroke="#1a1a1a" stroke-width="0.9" fill="none"/>
<path d="M246.0 538.0 C246.5 540.0 248.3 546.0 249.0 550.0 C249.7 554.0 249.8 560.0 250.0 562.0 " stroke="#1a1a1a" stroke-width="0.8" fill="none" stroke-linejoin="round" stroke-linecap="round" />
<path d="M262.0 537.0 C262.7 539.2 265.0 546.2 266.0 550.0 C267.0 553.8 267.7 558.3 268.0 560.0 " stroke="#1a1a1a" stroke-width="0.8" fill="none" stroke-linejoin="round" stroke-linecap="round" />
<path d="M217 497 L232 507 M228 500 L229 528" stroke="#1a1a1a" stroke-width="1.1" fill="none" stroke-linejoin="round" stroke-linecap="round" />
<path d="M236.0 594.0 C237.0 594.7 240.0 598.3 242.0 598.0 C244.0 597.7 246.3 593.5 248.0 592.0 C249.7 590.5 251.3 589.5 252.0 589.0 " stroke="#1a1a1a" stroke-width="1.1" fill="none" stroke-linejoin="round" stroke-linecap="round" />
<path d="M240.0 588.0 C240.5 587.0 243.0 583.7 243.0 582.0 C243.0 580.3 241.8 578.7 240.0 578.0 C238.2 577.3 233.3 578.0 232.0 578.0 " stroke="#1a1a1a" stroke-width="1.1" fill="none" stroke-linejoin="round" stroke-linecap="round" />
<path d="M249.5 353 L249.5 357.5 C253 361.5 260 361.5 263.5 357.5 L263.5 353" stroke="#1a1a1a" stroke-width="1.1" fill="#fff" stroke-linejoin="round" stroke-linecap="round" />
<path d="M249 356.5 C253 360 260 360 264 356.5" stroke="#1a1a1a" stroke-width="1.6" fill="none" stroke-linejoin="round" stroke-linecap="round" />
<path d="M250 349.5 C250 340 263 340 263 349.5 L263.6 354 C259 357.5 254 357.5 249.4 354 Z" stroke="#1a1a1a" stroke-width="1.2" fill="#fff" stroke-linejoin="round" stroke-linecap="round" />
<path d="M250 349.5 C254 352 259 352 263 349.5 M254.3 351.3 L254 356.3 M259.8 351 L260.2 356" stroke="#1a1a1a" stroke-width="1.0" fill="none" stroke-linejoin="round" stroke-linecap="round" />
<path d="M250.2 378 L250.2 388.5 C252 392 260.5 392 262.4 388.5 L262.4 378" stroke="#1a1a1a" stroke-width="1.15" fill="#fff" stroke-linejoin="round" stroke-linecap="round" />
<ellipse cx="256.1" cy="375" rx="11.4" ry="6.0" stroke="#1a1a1a" stroke-width="1.25" fill="#fff"/>
<ellipse cx="256.3" cy="375.3" rx="5.8" ry="3.1" stroke="#1a1a1a" stroke-width="1.2" fill="none"/>
<path d="M245 376.5 C247 382 265 382 267.3 376.5" stroke="#1a1a1a" stroke-width="1.0" fill="none" stroke-linejoin="round" stroke-linecap="round" />
<path d="M239.6 637.3 L260 626.5 L277.7 636 L277.7 639.5 L255 650.2 L239.6 641 Z" stroke="#1a1a1a" stroke-width="1.2" fill="#fff" stroke-linejoin="round" stroke-linecap="round" />
<path d="M239.6 637.3 L255 646.5 L277.7 636 M255 646.5 L255 650.2" stroke="#1a1a1a" stroke-width="1.1" fill="none" stroke-linejoin="round" stroke-linecap="round" />
<path d="M244.3 628 L244.3 633.5 C246 639.5 265 639.5 267 633.5 L267 628" stroke="#1a1a1a" stroke-width="1.2" fill="#fff" stroke-linejoin="round" stroke-linecap="round" />
<ellipse cx="255.6" cy="627.3" rx="11.4" ry="5.6" stroke="#1a1a1a" stroke-width="1.3" fill="#fff"/>
<ellipse cx="255.6" cy="627.5" rx="7.4" ry="3.6" stroke="#1a1a1a" stroke-width="1.5" fill="none"/>
<path d="M245 633.5 C248 638 263 638 266.5 633.5" stroke="#1a1a1a" stroke-width="1.5" fill="none" stroke-linejoin="round" stroke-linecap="round" />
<line x1="256" y1="612" x2="256" y2="626" stroke="#1a1a1a" stroke-width="2.4" stroke-linecap="butt"/>
<path d="M239 671.1 L259.9 656.8 L278.2 666 L252.5 681.5 Z" stroke="#1a1a1a" stroke-width="1.2" fill="#fff" stroke-linejoin="round" stroke-linecap="round" />
<path d="M239 671.1 L239.6 673 L252.7 683.4 L278.4 668 L278.2 666" stroke="#1a1a1a" stroke-width="1.0" fill="none" stroke-linejoin="round" stroke-linecap="round" />
<ellipse cx="256.2" cy="668.6" rx="4.6" ry="2.6" stroke="#1a1a1a" stroke-width="1.1" fill="none"/>
<path d="M251.6 689.5 C251.6 686 260.6 686 260.6 689.5 L260.6 721.5 C260.6 725 251.6 725 251.6 721.5 Z" stroke="#1a1a1a" stroke-width="1.15" fill="#fff" stroke-linejoin="round" stroke-linecap="round" />
<path d="M251.8 690.5 C254 692.3 258 692.3 260.4 690.5" stroke="#1a1a1a" stroke-width="0.9" fill="none" stroke-linejoin="round" stroke-linecap="round" />
<path d="M251.8 693.2 C254 695.0 258 695.0 260.4 693.2" stroke="#1a1a1a" stroke-width="0.9" fill="none" stroke-linejoin="round" stroke-linecap="round" />
<path d="M251.8 696.0 C254 697.8 258 697.8 260.4 696.0" stroke="#1a1a1a" stroke-width="0.9" fill="none" stroke-linejoin="round" stroke-linecap="round" />
<path d="M251.8 698.8 C254 700.5 258 700.5 260.4 698.8" stroke="#1a1a1a" stroke-width="0.9" fill="none" stroke-linejoin="round" stroke-linecap="round" />
<path d="M251.8 701.5 C254 703.3 258 703.3 260.4 701.5" stroke="#1a1a1a" stroke-width="0.9" fill="none" stroke-linejoin="round" stroke-linecap="round" />
<path d="M251.8 707.0 C254 708.8 258 708.8 260.4 707.0" stroke="#1a1a1a" stroke-width="0.9" fill="none" stroke-linejoin="round" stroke-linecap="round" />
<path d="M251.8 709.8 C254 711.5 258 711.5 260.4 709.8" stroke="#1a1a1a" stroke-width="0.9" fill="none" stroke-linejoin="round" stroke-linecap="round" />
<path d="M251.8 712.5 C254 714.3 258 714.3 260.4 712.5" stroke="#1a1a1a" stroke-width="0.9" fill="none" stroke-linejoin="round" stroke-linecap="round" />
<path d="M251.8 715.2 C254 717.0 258 717.0 260.4 715.2" stroke="#1a1a1a" stroke-width="0.9" fill="none" stroke-linejoin="round" stroke-linecap="round" />
<path d="M251.8 718.0 C254 719.8 258 719.8 260.4 718.0" stroke="#1a1a1a" stroke-width="0.9" fill="none" stroke-linejoin="round" stroke-linecap="round" />
<path d="M251.8 720.8 C254 722.5 258 722.5 260.4 720.8" stroke="#1a1a1a" stroke-width="0.9" fill="none" stroke-linejoin="round" stroke-linecap="round" />
<path d="M319.8 527.4 L332.3 532.8 M321.8 539.8 L330.5 543.2" stroke="#1a1a1a" stroke-width="1.15" fill="none" stroke-linejoin="round" stroke-linecap="round" />
<ellipse cx="319.3" cy="532.8" rx="7.2" ry="11.2" stroke="#1a1a1a" stroke-width="1.25" fill="#fff" transform="rotate(14 319.3 532.8)"/>
<path d="M316.0 543.5 L315.3 543.1 L314.7 542.7 L314.1 542.1 L313.5 541.4 L313.0 540.7 L312.6 539.8 L312.3 538.9 L312.1 537.9 L311.9 536.8 L311.8 535.7 L311.8 534.5 L311.9 533.4 L312.1 532.2 L312.3 531.1 L312.6 529.9 L313.0 528.8 L313.5 527.7 L314.0 526.7 L314.6 525.8 L315.3 524.9 L316.0 524.2 L316.7 523.5 L317.5 522.9 L318.2 522.5 L319.0 522.1 L319.8 521.9 L320.6 521.8 L321.4 521.8 " stroke="#1a1a1a" stroke-width="2.0" fill="none" stroke-linejoin="round" stroke-linecap="round" />
<path d="M320.1 527.1999999999999 L332.3 532.8 L330.5 543.2 L320.90000000000003 539.1999999999999 C316.8 535.8 316.8 529.8 320.1 527.1999999999999 Z" stroke="#1a1a1a" stroke-width="1.15" fill="#fff" stroke-linejoin="round" stroke-linecap="round" />
<ellipse cx="331.5" cy="538.0" rx="3.5" ry="5.3" stroke="#1a1a1a" stroke-width="1.15" fill="#fff" transform="rotate(14 331.5 538.0)"/>
<ellipse cx="331.8" cy="538.1" rx="2.3" ry="4.0" stroke="#1a1a1a" stroke-width="1.0" fill="none" transform="rotate(14 331.8 538.1)"/>
<path d="M328.1 556.0 L340.6 561.4 M330.1 568.4 L338.8 571.8000000000001" stroke="#1a1a1a" stroke-width="1.15" fill="none" stroke-linejoin="round" stroke-linecap="round" />
<ellipse cx="327.6" cy="561.4" rx="7.2" ry="11.2" stroke="#1a1a1a" stroke-width="1.25" fill="#fff" transform="rotate(14 327.6 561.4)"/>
<path d="M324.3 572.1 L323.6 571.7 L323.0 571.3 L322.4 570.7 L321.8 570.0 L321.3 569.3 L320.9 568.4 L320.6 567.5 L320.4 566.5 L320.2 565.4 L320.1 564.3 L320.1 563.1 L320.2 562.0 L320.4 560.8 L320.6 559.7 L320.9 558.5 L321.3 557.4 L321.8 556.3 L322.3 555.3 L322.9 554.4 L323.6 553.5 L324.3 552.8 L325.0 552.1 L325.8 551.5 L326.5 551.1 L327.3 550.7 L328.1 550.5 L328.9 550.4 L329.7 550.4 " stroke="#1a1a1a" stroke-width="2.0" fill="none" stroke-linejoin="round" stroke-linecap="round" />
<path d="M328.40000000000003 555.8 L340.6 561.4 L338.8 571.8000000000001 L329.20000000000005 567.8 C325.1 564.4 325.1 558.4 328.40000000000003 555.8 Z" stroke="#1a1a1a" stroke-width="1.15" fill="#fff" stroke-linejoin="round" stroke-linecap="round" />
<ellipse cx="339.8" cy="566.6" rx="3.5" ry="5.3" stroke="#1a1a1a" stroke-width="1.15" fill="#fff" transform="rotate(14 339.8 566.6)"/>
<ellipse cx="340.1" cy="566.7" rx="2.3" ry="4.0" stroke="#1a1a1a" stroke-width="1.0" fill="none" transform="rotate(14 340.1 566.7)"/>
<ellipse cx="352.8" cy="553.0" rx="5.6" ry="11.6" stroke="#1a1a1a" stroke-width="1.25" fill="#fff" transform="rotate(14 352.8 553.0)"/>
<ellipse cx="356.1" cy="554.43" rx="5.4" ry="11.2" stroke="#1a1a1a" stroke-width="1.0" fill="#fff" transform="rotate(14 356.1 554.43)"/>
<ellipse cx="359.1" cy="555.73" rx="4.2" ry="8.8" stroke="#1a1a1a" stroke-width="1.0" fill="#fff" transform="rotate(14 359.1 555.73)"/>
<ellipse cx="362.1" cy="557.03" rx="5.2" ry="10.6" stroke="#1a1a1a" stroke-width="1.15" fill="#fff" transform="rotate(14 362.1 557.03)"/>
<ellipse cx="365.1" cy="558.33" rx="5.0" ry="10.2" stroke="#1a1a1a" stroke-width="1.0" fill="#fff" transform="rotate(14 365.1 558.33)"/>
<ellipse cx="367.8" cy="559.5" rx="4.9" ry="10.0" stroke="#1a1a1a" stroke-width="1.2" fill="#fff" transform="rotate(14 367.8 559.5)"/>
<ellipse cx="368.1" cy="559.7" rx="3.0" ry="6.2" stroke="#1a1a1a" stroke-width="1.0" fill="none" transform="rotate(14 368.1 559.7)"/>
<ellipse cx="368.40000000000003" cy="559.9" rx="1.6" ry="3.0" stroke="#1a1a1a" stroke-width="1.0" fill="none" transform="rotate(14 368.40000000000003 559.9)"/>
<ellipse cx="364.4" cy="584.0" rx="5.6" ry="11.6" stroke="#1a1a1a" stroke-width="1.25" fill="#fff" transform="rotate(14 364.4 584.0)"/>
<ellipse cx="367.7" cy="585.43" rx="5.4" ry="11.2" stroke="#1a1a1a" stroke-width="1.0" fill="#fff" transform="rotate(14 367.7 585.43)"/>
<ellipse cx="370.7" cy="586.73" rx="4.2" ry="8.8" stroke="#1a1a1a" stroke-width="1.0" fill="#fff" transform="rotate(14 370.7 586.73)"/>
<ellipse cx="373.7" cy="588.03" rx="5.2" ry="10.6" stroke="#1a1a1a" stroke-width="1.15" fill="#fff" transform="rotate(14 373.7 588.03)"/>
<ellipse cx="376.7" cy="589.33" rx="5.0" ry="10.2" stroke="#1a1a1a" stroke-width="1.0" fill="#fff" transform="rotate(14 376.7 589.33)"/>
<ellipse cx="379.4" cy="590.5" rx="4.9" ry="10.0" stroke="#1a1a1a" stroke-width="1.2" fill="#fff" transform="rotate(14 379.4 590.5)"/>
<ellipse cx="379.7" cy="590.7" rx="3.0" ry="6.2" stroke="#1a1a1a" stroke-width="1.0" fill="none" transform="rotate(14 379.7 590.7)"/>
<ellipse cx="380.0" cy="590.9" rx="1.6" ry="3.0" stroke="#1a1a1a" stroke-width="1.0" fill="none" transform="rotate(14 380.0 590.9)"/>
<g transform="translate(463.2 566.6) rotate(-24.99764733185953)" stroke="#1a1a1a" stroke-width="1.15" stroke-linejoin="round"><path d="M0 -4.6 L17.984715733088493 -4.6 C20.584715733088494 -4.6 20.584715733088494 4.6 17.984715733088493 4.6 L0 4.6 Z" fill="#fff"/><ellipse cx="0" cy="0" rx="2.2" ry="4.6" fill="#fff"/><ellipse cx="0.2" cy="0" rx="1.1" ry="2.3" fill="none" stroke-width="0.9"/></g>
<g transform="translate(488.0 597.2) rotate(-25.40771810894854)" stroke="#1a1a1a" stroke-width="1.15" stroke-linejoin="round"><path d="M0 -4.6 L17.713271860387632 -4.6 C20.313271860387633 -4.6 20.313271860387633 4.6 17.713271860387632 4.6 L0 4.6 Z" fill="#fff"/><ellipse cx="0" cy="0" rx="2.2" ry="4.6" fill="#fff"/><ellipse cx="0.2" cy="0" rx="1.1" ry="2.3" fill="none" stroke-width="0.9"/></g>
<g transform="translate(338.6 641.0) rotate(-29.24882633654702)" stroke="#1a1a1a" stroke-width="1.1" stroke-linejoin="round" stroke-linecap="round"><path d="M2 -2.8 L50.575575614819876 -2.8 C52.37557561481987 -2.8 52.37557561481987 2.8 50.575575614819876 2.8 L2 2.8 Z" fill="#fff"/><path d="M28.4 -2.8 L29.5 2.8" stroke-width="1.0" fill="none"/><path d="M30.3 -2.8 L31.4 2.8" stroke-width="1.0" fill="none"/><path d="M32.2 -2.8 L33.3 2.8" stroke-width="1.0" fill="none"/><path d="M34.1 -2.8 L35.2 2.8" stroke-width="1.0" fill="none"/><path d="M36.0 -2.8 L37.1 2.8" stroke-width="1.0" fill="none"/><path d="M37.9 -2.8 L39.0 2.8" stroke-width="1.0" fill="none"/><path d="M39.8 -2.8 L40.9 2.8" stroke-width="1.0" fill="none"/><path d="M41.7 -2.8 L42.8 2.8" stroke-width="1.0" fill="none"/><path d="M43.6 -2.8 L44.7 2.8" stroke-width="1.0" fill="none"/><path d="M45.5 -2.8 L46.6 2.8" stroke-width="1.0" fill="none"/><path d="M47.4 -2.8 L48.5 2.8" stroke-width="1.0" fill="none"/><path d="M49.3 -2.8 L50.4 2.8" stroke-width="1.0" fill="none"/><ellipse cx="2.8" cy="0" rx="4.8" ry="7.3999999999999995" fill="#fff" stroke-width="1.2"/><ellipse cx="1.2" cy="0" rx="4.8" ry="7.3999999999999995" fill="#fff" stroke-width="1.35"/><path d="M3.6 2.2 L0.9 4.5 L-1.8 2.2 L-1.8 -2.2 L0.9 -4.5 L3.6 -2.2 Z" fill="#fff" stroke-width="1.0"/><path d="M1.9 2.2 L-0.8 4.5 L-3.5 2.2 L-3.5 -2.2 L-0.8 -4.5 L1.9 -2.2 Z" fill="#fff" stroke-width="1.15"/></g>
<g transform="translate(381.6 660.6) rotate(-29.701409545410666)" stroke="#1a1a1a" stroke-width="1.1" stroke-linejoin="round" stroke-linecap="round"><path d="M2 -2.8 L31.695565448543633 -2.8 C33.49556544854363 -2.8 33.49556544854363 2.8 31.695565448543633 2.8 L2 2.8 Z" fill="#fff"/><path d="M18.0 -2.8 L19.1 2.8" stroke-width="1.0" fill="none"/><path d="M19.9 -2.8 L21.0 2.8" stroke-width="1.0" fill="none"/><path d="M21.8 -2.8 L22.9 2.8" stroke-width="1.0" fill="none"/><path d="M23.7 -2.8 L24.8 2.8" stroke-width="1.0" fill="none"/><path d="M25.6 -2.8 L26.7 2.8" stroke-width="1.0" fill="none"/><path d="M27.5 -2.8 L28.6 2.8" stroke-width="1.0" fill="none"/><path d="M29.4 -2.8 L30.5 2.8" stroke-width="1.0" fill="none"/><ellipse cx="2.8" cy="0" rx="4.8" ry="7.3999999999999995" fill="#fff" stroke-width="1.2"/><ellipse cx="1.2" cy="0" rx="4.8" ry="7.3999999999999995" fill="#fff" stroke-width="1.35"/><path d="M3.6 2.2 L0.9 4.5 L-1.8 2.2 L-1.8 -2.2 L0.9 -4.5 L3.6 -2.2 Z" fill="#fff" stroke-width="1.0"/><path d="M1.9 2.2 L-0.8 4.5 L-3.5 2.2 L-3.5 -2.2 L-0.8 -4.5 L1.9 -2.2 Z" fill="#fff" stroke-width="1.15"/></g>
<g transform="translate(464.3 528.1) rotate(-148.1340223063963)" stroke="#1a1a1a" stroke-width="1.1" stroke-linejoin="round" stroke-linecap="round"><path d="M2 -3.3 L29.496229275108792 -3.3 C31.296229275108793 -3.3 31.296229275108793 3.3 29.496229275108792 3.3 L2 3.3 Z" fill="#fff"/><path d="M4.6 -3.3 L5.7 3.3" stroke-width="1.0" fill="none"/><path d="M6.5 -3.3 L7.6 3.3" stroke-width="1.0" fill="none"/><path d="M8.4 -3.3 L9.5 3.3" stroke-width="1.0" fill="none"/><path d="M10.3 -3.3 L11.4 3.3" stroke-width="1.0" fill="none"/><path d="M12.2 -3.3 L13.3 3.3" stroke-width="1.0" fill="none"/><path d="M14.1 -3.3 L15.2 3.3" stroke-width="1.0" fill="none"/><path d="M16.0 -3.3 L17.1 3.3" stroke-width="1.0" fill="none"/><path d="M17.9 -3.3 L19.0 3.3" stroke-width="1.0" fill="none"/><path d="M19.8 -3.3 L20.9 3.3" stroke-width="1.0" fill="none"/><path d="M21.7 -3.3 L22.8 3.3" stroke-width="1.0" fill="none"/><path d="M23.6 -3.3 L24.7 3.3" stroke-width="1.0" fill="none"/><path d="M25.5 -3.3 L26.6 3.3" stroke-width="1.0" fill="none"/><path d="M27.4 -3.3 L28.5 3.3" stroke-width="1.0" fill="none"/><ellipse cx="2.8" cy="0" rx="5.6" ry="8.6" fill="#fff" stroke-width="1.2"/><ellipse cx="1.2" cy="0" rx="5.6" ry="8.6" fill="#fff" stroke-width="1.35"/><path d="M4.1 2.6 L0.9 5.3 L-2.3 2.6 L-2.3 -2.6 L0.9 -5.3 L4.1 -2.6 Z" fill="#fff" stroke-width="1.0"/><path d="M2.4 2.6 L-0.8 5.3 L-4.0 2.6 L-4.0 -2.6 L-0.8 -5.3 L2.4 -2.6 Z" fill="#fff" stroke-width="1.15"/></g>
<g transform="translate(482.2 648.9) rotate(-149.13508600273)" stroke="#1a1a1a" stroke-width="1.1" stroke-linejoin="round" stroke-linecap="round"><path d="M2 -3.3 L28.823648334836516 -3.3 C30.623648334836517 -3.3 30.623648334836517 3.3 28.823648334836516 3.3 L2 3.3 Z" fill="#fff"/><path d="M4.5 -3.3 L5.6 3.3" stroke-width="1.0" fill="none"/><path d="M6.4 -3.3 L7.5 3.3" stroke-width="1.0" fill="none"/><path d="M8.3 -3.3 L9.4 3.3" stroke-width="1.0" fill="none"/><path d="M10.2 -3.3 L11.3 3.3" stroke-width="1.0" fill="none"/><path d="M12.1 -3.3 L13.2 3.3" stroke-width="1.0" fill="none"/><path d="M14.0 -3.3 L15.1 3.3" stroke-width="1.0" fill="none"/><path d="M15.9 -3.3 L17.0 3.3" stroke-width="1.0" fill="none"/><path d="M17.8 -3.3 L18.9 3.3" stroke-width="1.0" fill="none"/><path d="M19.7 -3.3 L20.8 3.3" stroke-width="1.0" fill="none"/><path d="M21.6 -3.3 L22.7 3.3" stroke-width="1.0" fill="none"/><path d="M23.5 -3.3 L24.6 3.3" stroke-width="1.0" fill="none"/><path d="M25.4 -3.3 L26.5 3.3" stroke-width="1.0" fill="none"/><path d="M27.3 -3.3 L28.4 3.3" stroke-width="1.0" fill="none"/><ellipse cx="2.8" cy="0" rx="5.6" ry="8.6" fill="#fff" stroke-width="1.2"/><ellipse cx="1.2" cy="0" rx="5.6" ry="8.6" fill="#fff" stroke-width="1.35"/><path d="M4.1 2.6 L0.9 5.3 L-2.3 2.6 L-2.3 -2.6 L0.9 -5.3 L4.1 -2.6 Z" fill="#fff" stroke-width="1.0"/><path d="M2.4 2.6 L-0.8 5.3 L-4.0 2.6 L-4.0 -2.6 L-0.8 -5.3 L2.4 -2.6 Z" fill="#fff" stroke-width="1.15"/></g>
<path d="M446 586 C449 578 455 574.5 462.9 574.5 C471 574.5 476.5 579 476.5 587 L478.5 613.6 L466.8 621.8 L452.5 611 Z" stroke="#1a1a1a" stroke-width="1.2" fill="#fff" stroke-linejoin="round" stroke-linecap="round" />
<path d="M452.5 611 C455 603 454 596 451 590 C449.5 587 447.5 586 446 586" stroke="#1a1a1a" stroke-width="1.0" fill="none" stroke-linejoin="round" stroke-linecap="round" />
<path d="M476.5 587 C474 582 470 579.5 466 580 C468 586 469 600 468.5 620.5" stroke="#1a1a1a" stroke-width="1.0" fill="none" stroke-linejoin="round" stroke-linecap="round" />
<ellipse cx="459" cy="592.8" rx="5.9" ry="8.5" stroke="#1a1a1a" stroke-width="1.3" fill="#fff" transform="rotate(-8 459 592.8)"/>
<path d="M456.4 597.3 L456.0 596.6 L455.7 595.9 L455.5 595.2 L455.3 594.4 L455.2 593.6 L455.1 592.8 L455.1 592.0 L455.2 591.2 L455.3 590.4 L455.5 589.7 L455.7 589.0 L456.0 588.4 L456.3 587.8 L456.7 587.3 L457.1 586.9 L457.5 586.6 L458.0 586.3 L458.5 586.1 L459.0 586.1 L459.5 586.1 L460.0 586.1 L460.5 586.3 L461.0 586.6 L461.5 586.9 L462.0 587.4 L462.5 587.9 L462.9 588.5 L463.2 589.1 " stroke="#1a1a1a" stroke-width="1.0" fill="none" stroke-linejoin="round" stroke-linecap="round" />
<path d="M456 597 L462.5 589" stroke="#1a1a1a" stroke-width="0.9" fill="none" stroke-linejoin="round" stroke-linecap="round" />
<path d="M425 588 L468 611.5 L466.8 621.8 L430 603 L411 603 Z" stroke="none" stroke-width="0" fill="#fff" stroke-linejoin="round" stroke-linecap="round" />
<path d="M424 586.5 L469 610.5 M423.5 589.5 L468 613.3 M422 592.5 L463 614.8" stroke="#1a1a1a" stroke-width="1.1" fill="none" stroke-linejoin="round" stroke-linecap="round" />
<path d="M411 600.5 C418 600 424 597 428 594 L432 596.5 L431.5 604 M431.5 604 L452 616.5" stroke="#1a1a1a" stroke-width="1.0" fill="none" stroke-linejoin="round" stroke-linecap="round" />
<path d="M421 609.5 C424 607.5 428 607.5 431 609.5 L450 620.5 L455 621.5" stroke="#1a1a1a" stroke-width="1.0" fill="none" stroke-linejoin="round" stroke-linecap="round" />
<path d="M431 609.5 L446 613.5" stroke="#1a1a1a" stroke-width="0.9" fill="none" stroke-linejoin="round" stroke-linecap="round" />
<path d="M429 577.1 C432 580 436 583.5 440 585 C443 586 445 586 446 586" stroke="#1a1a1a" stroke-width="1.2" fill="none" stroke-linejoin="round" stroke-linecap="round" />
<path d="M431 575 C434 573 436.5 575 435.5 578.5 M433 584 C438 588 443 589.5 447 589" stroke="#1a1a1a" stroke-width="1.0" fill="none" stroke-linejoin="round" stroke-linecap="round" />
<path d="M425.4 575 C427 576 428.5 576.5 429 577.1" stroke="#1a1a1a" stroke-width="1.0" fill="none" stroke-linejoin="round" stroke-linecap="round" />
<ellipse cx="459" cy="614.9" rx="5.4" ry="4.6" stroke="#1a1a1a" stroke-width="1.2" fill="#fff" transform="rotate(25 459 614.9)"/>
<ellipse cx="459.2" cy="615" rx="2.6" ry="2.1" stroke="#1a1a1a" stroke-width="1.0" fill="none" transform="rotate(25 459.2 615)"/>
<path d="M464 612.5 L468 610.5" stroke="#1a1a1a" stroke-width="0.9" fill="none" stroke-linejoin="round" stroke-linecap="round" />
<path d="M398.5 596 L410.8 601.2 L410.8 612.3 L401.7 607 L401.7 618 C404 622 410 624 416 622.6 C420 621.5 422.6 618 422.6 614 M398.5 596 L398.5 604.5 L401.7 607" stroke="#1a1a1a" stroke-width="1.2" fill="#fff" stroke-linejoin="round" stroke-linecap="round" />
<path d="M410.8 612.3 C410.8 617 414 620.5 418 620.5 M404 619.5 C408 622.5 414 622.5 417 620" stroke="#1a1a1a" stroke-width="1.6" fill="none" stroke-linejoin="round" stroke-linecap="round" />
<ellipse cx="404.4" cy="602.6" rx="2.4" ry="2.8" stroke="#1a1a1a" stroke-width="1.0" fill="none"/>
<ellipse cx="410.2" cy="583.6" rx="14.4" ry="14.8" stroke="#1a1a1a" stroke-width="1.3" fill="#fff" transform="rotate(-20 410.2 583.6)"/>
<ellipse cx="413.4" cy="584.6" rx="9.2" ry="10.8" stroke="#1a1a1a" stroke-width="1.8" fill="none" transform="rotate(-20 413.4 584.6)"/>
<path d="M422.2 585.9 L422.2 586.9 L422.1 587.9 L421.9 588.9 L421.6 589.8 L421.3 590.6 L420.8 591.4 L420.3 592.1 L419.7 592.8 L419.0 593.3 L418.2 593.7 L417.5 594.1 L416.6 594.3 L415.8 594.4 L414.9 594.4 L414.0 594.3 L413.2 594.1 L412.3 593.7 L411.5 593.3 L410.7 592.8 L409.9 592.1 L409.3 591.4 L408.6 590.6 L408.1 589.8 L407.6 588.8 L407.2 587.9 L406.9 586.9 L406.7 585.9 L406.6 584.9 " stroke="#1a1a1a" stroke-width="1.0" fill="none" stroke-linejoin="round" stroke-linecap="round" />
<path d="M417.8 591.8 L417.4 592.4 L416.9 592.8 L416.4 593.2 L415.9 593.6 L415.3 593.9 L414.7 594.1 L414.1 594.2 L413.4 594.2 L412.7 594.2 L412.1 594.1 L411.4 593.9 L410.8 593.6 L410.2 593.3 L409.6 592.9 L409.0 592.4 L408.4 591.9 L407.9 591.3 L407.5 590.7 L407.0 590.0 L406.7 589.3 L406.4 588.6 L406.1 587.8 L406.0 587.1 L405.8 586.3 L405.8 585.5 L405.8 584.7 L405.9 584.0 L406.0 583.2 " stroke="#1a1a1a" stroke-width="1.3" fill="none" stroke-linejoin="round" stroke-linecap="round" />
<path d="M407 579 L426 590" stroke="#1a1a1a" stroke-width="1.0" fill="none" stroke-linejoin="round" stroke-linecap="round" />
<path d="M398.5 596 C401 598 405 599.5 410.8 601.2 C415 600 419 598 422 595.5" stroke="#1a1a1a" stroke-width="1.0" fill="none" stroke-linejoin="round" stroke-linecap="round" />
<line x1="426.8" y1="560" x2="426.8" y2="593.7" stroke="#1a1a1a" stroke-width="1.0" stroke-linecap="butt"/>
<path d="M503.0 680.0 C495.2 681.7 502.5 690.3 503.0 700.0 C503.5 709.7 504.7 728.3 506.0 738.0 C507.3 747.7 507.8 751.1 510.6 758.4 C513.4 765.7 517.8 774.3 523.0 781.9 C528.2 789.5 534.9 797.3 541.9 803.8 C548.9 810.3 557.5 817.9 565.3 821.0 C573.1 824.1 581.3 823.5 588.8 822.5 C596.2 821.5 603.5 817.8 610.0 815.0 C616.5 812.2 624.8 813.5 628.0 806.0 C631.2 798.5 626.7 774.8 629.0 770.0 C631.3 765.2 637.8 776.8 642.0 777.0 C646.2 777.2 652.0 775.7 654.0 771.0 C656.0 766.3 655.2 754.8 654.0 749.0 C652.8 743.2 651.0 740.5 647.0 736.0 C643.0 731.5 635.8 727.0 630.0 722.0 C624.2 717.0 618.7 709.7 612.0 706.0 C605.3 702.3 596.7 702.0 590.0 700.0 C583.3 698.0 578.7 695.7 572.0 694.0 C565.3 692.3 561.5 692.3 550.0 690.0 C538.5 687.7 510.8 678.3 503.0 680.0 Z" stroke="none" stroke-width="0" fill="#fff" stroke-linejoin="round" stroke-linecap="round" />
<path d="M502.2 687.8 C502.4 689.8 502.8 695.0 503.2 700.0 C503.6 705.0 504.2 711.4 504.8 717.7 C505.4 724.0 505.7 731.2 506.7 738.0 C507.7 744.8 507.9 751.1 510.6 758.4 C513.3 765.7 517.8 774.3 523.0 781.9 C528.2 789.5 534.9 797.3 541.9 803.8 C548.9 810.3 557.5 817.9 565.3 821.0 C573.1 824.1 582.3 823.3 588.8 822.5 C595.3 821.7 601.8 817.3 604.4 816.3 " stroke="#1a1a1a" stroke-width="1.2" fill="none" stroke-linejoin="round" stroke-linecap="round" />
<path d="M549.7 689.0 C549.5 691.2 548.4 697.9 548.4 702.0 C548.4 706.1 549.5 711.8 549.7 713.8 " stroke="#1a1a1a" stroke-width="1.2" fill="none" stroke-linejoin="round" stroke-linecap="round" />
<path d="M503.5 689.0 C504.6 690.7 506.0 696.4 510.0 699.0 C514.0 701.6 522.4 704.2 527.6 704.7 C532.8 705.2 537.6 703.5 541.0 702.0 C544.4 700.5 546.8 697.0 548.0 696.0 " stroke="#1a1a1a" stroke-width="1.0" fill="none" stroke-linejoin="round" stroke-linecap="round" />
<ellipse cx="527.2" cy="675.4" rx="23.8" ry="16.3" stroke="#1a1a1a" stroke-width="1.3" fill="#fff"/>
<ellipse cx="527.6" cy="675.1" rx="20.8" ry="14.0" stroke="#1a1a1a" stroke-width="1.1" fill="none"/>
<path d="M510.2 678.8 L510.4 677.9 L510.9 677.0 L511.5 676.1 L512.3 675.3 L513.3 674.6 L514.5 673.9 L515.8 673.2 L517.2 672.7 L518.8 672.2 L520.4 671.8 L522.1 671.4 L523.9 671.2 L525.7 671.0 L527.6 671.0 L529.5 671.0 L531.3 671.2 L533.1 671.4 L534.8 671.8 L536.4 672.2 L538.0 672.7 L539.4 673.2 L540.7 673.9 L541.9 674.6 L542.9 675.3 L543.7 676.1 L544.3 677.0 L544.8 677.9 L545.0 678.8 " stroke="#1a1a1a" stroke-width="1.0" fill="none" stroke-linejoin="round" stroke-linecap="round" />
<path d="M511.4 680.1 L511.7 679.3 L512.2 678.6 L512.9 677.9 L513.7 677.2 L514.7 676.5 L515.8 675.9 L517.0 675.4 L518.3 674.9 L519.7 674.5 L521.2 674.1 L522.7 673.9 L524.3 673.7 L526.0 673.5 L527.6 673.5 L529.2 673.5 L530.9 673.7 L532.5 673.9 L534.0 674.1 L535.5 674.5 L536.9 674.9 L538.2 675.4 L539.4 675.9 L540.5 676.5 L541.5 677.2 L542.3 677.9 L543.0 678.6 L543.5 679.3 L543.8 680.1 " stroke="#1a1a1a" stroke-width="1.0" fill="none" stroke-linejoin="round" stroke-linecap="round" />
<path d="M546.5 679.8 L546.0 680.9 L545.3 682.0 L544.4 683.0 L543.4 684.0 L542.2 684.9 L540.9 685.7 L539.5 686.5 L538.0 687.2 L536.4 687.7 L534.8 688.2 L533.0 688.6 L531.2 688.9 L529.4 689.0 L527.6 689.1 L525.8 689.0 L524.0 688.9 L522.2 688.6 L520.4 688.2 L518.8 687.7 L517.2 687.2 L515.7 686.5 L514.3 685.7 L513.0 684.9 L511.8 684.0 L510.8 683.0 L509.9 682.0 L509.2 680.9 L508.7 679.8 " stroke="#1a1a1a" stroke-width="1.0" fill="none" stroke-linejoin="round" stroke-linecap="round" />
<text transform="translate(503.9 701.5) rotate(88) skewX(-34)" font-size="16.5" font-weight="bold" fill="#111" textLength="37" lengthAdjust="spacingAndGlyphs" stroke="#111" stroke-width="0.8">GYTR</text>
<path d="M549.0 692.0 C550.2 691.4 553.2 689.2 556.0 688.5 C558.8 687.8 563.0 687.6 566.0 688.0 C569.0 688.4 572.7 690.5 574.0 691.0 " stroke="#1a1a1a" stroke-width="1.0" fill="none" stroke-linejoin="round" stroke-linecap="round" />
<path d="M549.7 702.0 C550.8 701.7 554.3 701.2 556.0 700.0 C557.7 698.8 558.3 696.2 560.0 695.0 C561.7 693.8 564.0 692.8 566.0 692.5 C568.0 692.2 570.2 692.1 572.0 693.0 C573.8 693.9 576.2 697.2 577.0 698.0 " stroke="#1a1a1a" stroke-width="1.0" fill="none" stroke-linejoin="round" stroke-linecap="round" />
<path d="M549.7 713.8 C550.6 713.5 553.3 713.0 555.0 712.0 C556.7 711.0 558.2 709.7 560.0 708.0 C561.8 706.3 564.2 703.5 566.0 702.0 C567.8 700.5 569.3 699.3 571.0 699.0 C572.7 698.7 575.2 699.8 576.0 700.0 " stroke="#1a1a1a" stroke-width="1.0" fill="none" stroke-linejoin="round" stroke-linecap="round" />
<path d="M574.0 691.0 C574.8 691.5 577.7 692.5 579.0 694.0 C580.3 695.5 581.5 699.0 582.0 700.0 " stroke="#1a1a1a" stroke-width="1.0" fill="none" stroke-linejoin="round" stroke-linecap="round" />
<path d="M529.5 725.5 L551 715.1 L569.2 733.3 L548 728.5 Z" stroke="#1a1a1a" stroke-width="1.2" fill="#fff" stroke-linejoin="round" stroke-linecap="round" />
<path d="M531.5 727.5 L549 731 L567 735.5 M551 715.1 L556 716.5 L571 730.5 L569.2 733.3 M559 717 L565.5 716 L570.5 722 L571 730.5" stroke="#1a1a1a" stroke-width="1.0" fill="none" stroke-linejoin="round" stroke-linecap="round" />
<path d="M571.0 733.0 C572.2 734.5 575.8 738.5 578.0 742.0 C580.2 745.5 582.2 748.5 584.0 753.8 C585.8 759.1 588.5 768.5 588.8 774.0 C589.1 779.5 587.2 783.5 585.6 786.6 C584.0 789.7 582.8 791.1 579.4 792.8 C576.0 794.5 567.6 796.1 565.3 796.7 " stroke="#1a1a1a" stroke-width="1.0" fill="none" stroke-linejoin="round" stroke-linecap="round" />
<path d="M573.0 700.0 C574.7 702.3 579.8 708.2 583.0 714.0 C586.2 719.8 589.5 727.6 592.0 735.0 C594.5 742.4 596.5 750.6 598.0 758.4 C599.5 766.2 601.5 774.2 601.0 782.0 C600.5 789.8 598.1 799.1 595.0 805.3 C591.9 811.5 584.6 817.0 582.5 819.4 " stroke="#1a1a1a" stroke-width="1.2" fill="none" stroke-linejoin="round" stroke-linecap="round" />
<path d="M572.5 699.4 C574.8 700.8 581.6 704.4 586.0 708.0 C590.4 711.6 594.7 716.6 599.0 721.3 C603.3 726.0 608.1 731.2 612.0 736.0 C615.9 740.8 619.7 744.6 622.5 750.0 C625.3 755.4 627.6 762.4 628.8 768.1 C630.0 773.8 629.6 779.2 629.5 784.0 C629.4 788.8 628.9 793.4 628.0 797.0 C627.1 800.6 624.7 804.2 624.0 805.6 " stroke="#1a1a1a" stroke-width="1.2" fill="none" stroke-linejoin="round" stroke-linecap="round" />
<path d="M578.0 697.0 C580.3 698.5 587.7 702.5 592.0 706.0 C596.3 709.5 600.3 714.0 604.0 718.0 C607.7 722.0 612.3 728.0 614.0 730.0 " stroke="#1a1a1a" stroke-width="1.0" fill="none" stroke-linejoin="round" stroke-linecap="round" />
<path d="M583.0 695.0 C585.3 696.5 592.8 700.8 597.0 704.0 C601.2 707.2 606.2 712.3 608.0 714.0 " stroke="#1a1a1a" stroke-width="1.0" fill="none" stroke-linejoin="round" stroke-linecap="round" />
<path d="M612.0 760.0 C612.5 762.5 614.4 770.0 615.0 775.0 C615.6 780.0 615.8 785.5 615.5 790.0 C615.2 794.5 613.8 800.0 613.5 802.0 " stroke="#1a1a1a" stroke-width="1.0" fill="none" stroke-linejoin="round" stroke-linecap="round" />
<path d="M617.5 758.0 C618.1 760.8 620.3 769.7 621.0 775.0 C621.7 780.3 621.8 785.5 621.5 790.0 C621.2 794.5 619.8 800.0 619.5 802.0 " stroke="#1a1a1a" stroke-width="1.0" fill="none" stroke-linejoin="round" stroke-linecap="round" />
<line x1="614" y1="768" x2="614" y2="818" stroke="#1a1a1a" stroke-width="1.0" stroke-dasharray="1.5 2" stroke-linecap="butt"/>
<path d="M528.6 749.8 C533 744.5 540 741 546.6 741.3 C558 742 568 754 570 770 C571.5 782 569 792 565.3 796 L548.9 801.4 Z" stroke="#1a1a1a" stroke-width="1.2" fill="#fff" stroke-linejoin="round" stroke-linecap="round" />
<path d="M541.0 742.5 C543.0 743.4 549.5 744.8 553.0 748.0 C556.5 751.2 560.1 757.0 562.0 762.0 C563.9 767.0 564.5 773.0 564.5 778.0 C564.5 783.0 562.9 788.7 562.0 792.0 C561.1 795.3 559.5 796.8 559.0 797.8 " stroke="#1a1a1a" stroke-width="1.0" fill="none" stroke-linejoin="round" stroke-linecap="round" />
<path d="M544.5 741.5 C546.5 742.4 553.0 743.8 556.5 747.0 C560.0 750.2 563.7 756.0 565.5 761.0 C567.3 766.0 567.5 772.0 567.5 777.0 C567.5 782.0 566.3 787.7 565.5 791.0 C564.7 794.3 563.0 796.0 562.5 797.0 " stroke="#1a1a1a" stroke-width="1.0" fill="none" stroke-linejoin="round" stroke-linecap="round" />
<ellipse cx="538" cy="775.6" rx="27" ry="17" stroke="#1a1a1a" stroke-width="2.2" fill="#fff" transform="rotate(68.5 538 775.6)"/>
<ellipse cx="544.2" cy="771.6" rx="21.6" ry="11.4" stroke="#1a1a1a" stroke-width="1.1" fill="none" transform="rotate(72 544.2 771.6)"/>
<path d="M557.5 779.4 L557.5 781.5 L557.4 783.5 L557.1 785.3 L556.6 786.9 L556.1 788.3 L555.3 789.5 L554.5 790.4 L553.6 791.1 L552.5 791.6 L551.4 791.7 L550.2 791.7 L548.9 791.3 L547.6 790.7 L546.3 789.8 L545.0 788.7 L543.7 787.3 L542.5 785.8 L541.3 784.0 L540.2 782.1 L539.2 780.1 L538.3 777.9 L537.4 775.7 L536.8 773.4 L536.2 771.2 L535.8 768.9 L535.6 766.7 L535.5 764.6 L535.5 762.5 " stroke="#1a1a1a" stroke-width="1.0" fill="none" stroke-linejoin="round" stroke-linecap="round" />
<g transform="translate(0 -3.5)">
<path d="M568.4 766 L585 757.5 C587.5 756.5 588 759.5 586 760.5 L573 765.5 L586 762.5 C588.5 762.5 588 765.8 586 766 L571 769 C568.5 769.2 567.4 767 568.4 766 Z" stroke="#1a1a1a" stroke-width="1.1" fill="#fff" stroke-linejoin="round" stroke-linecap="round" />
</g>
<path d="M601 746.5 C602.5 742.5 605 741.5 608 740.8 L618.5 738.2 C623 737.6 625.4 741 623.6 744.6 C622 748.5 619 751.5 615 753.2 L607.5 757.2 C602.5 759 599.5 754 601 746.5 Z" stroke="#1a1a1a" stroke-width="1.2" fill="#fff" stroke-linejoin="round" stroke-linecap="round" />
<path d="M604.4 747.5 C605.4 745.2 607 744.4 609 743.9 L617.8 741.6 C620.6 741.2 621.6 743.2 620.4 745.4 C619 748 617 749.8 614 751 L608 754 C605 755 603.4 752 604.4 747.5 Z" stroke="#1a1a1a" stroke-width="1.0" fill="none" stroke-linejoin="round" stroke-linecap="round" />
<path d="M611.6 710.0 C612.3 709.3 614.3 706.8 616.0 706.0 C617.7 705.2 620.3 705.1 622.0 705.4 C623.7 705.7 625.2 706.9 626.0 708.0 C626.8 709.1 626.8 711.3 627.0 712.0 " stroke="#1a1a1a" stroke-width="2.0" fill="none" stroke-linejoin="round" stroke-linecap="round" />
<path d="M612.0 712.0 C612.8 712.7 615.3 714.3 617.0 716.0 C618.7 717.7 620.5 720.0 622.0 722.0 C623.5 724.0 624.7 725.7 626.0 728.0 C627.3 730.3 629.3 734.7 630.0 736.0 " stroke="#1a1a1a" stroke-width="1.0" fill="none" stroke-linejoin="round" stroke-linecap="round" />
<path d="M614.0 719.0 C615.0 718.8 618.2 718.0 620.0 717.5 C621.8 717.0 623.7 716.0 625.0 716.0 C626.3 716.0 627.5 717.2 628.0 717.5 " stroke="#1a1a1a" stroke-width="1.0" fill="none" stroke-linejoin="round" stroke-linecap="round" />
<path d="M625 709 L630 720 L634 728 M627 712 L633 724" stroke="#1a1a1a" stroke-width="0.9" fill="none" stroke-linejoin="round" stroke-linecap="round" />
<path d="M636 737 L647.5 736.9 C651 740 653.8 744 653.8 749.4 L653.8 771.3 L642.8 777.5 L641.5 760" stroke="#1a1a1a" stroke-width="1.2" fill="#fff" stroke-linejoin="round" stroke-linecap="round" />
<path d="M647.5 736.9 L648 741 C648.5 746 646 749 641.5 750.5 L641.5 757" stroke="#1a1a1a" stroke-width="1.0" fill="none" stroke-linejoin="round" stroke-linecap="round" />
<path d="M635.5 735 L635.5 739.5 C637.5 742.5 645 742.5 647 739.5 L647 735" stroke="#1a1a1a" stroke-width="1.0" fill="#fff" stroke-linejoin="round" stroke-linecap="round" />
<ellipse cx="641.3" cy="735.3" rx="5.7" ry="2.9" stroke="#1a1a1a" stroke-width="1.15" fill="#fff"/>
<ellipse cx="641.3" cy="735.5" rx="2.4" ry="1.2" stroke="#1a1a1a" stroke-width="0.9" fill="none"/>
<path d="M628.8 758 L628.8 781 C631 786 639.5 786 641.4 781 L641.4 758" stroke="#1a1a1a" stroke-width="1.2" fill="#fff" stroke-linejoin="round" stroke-linecap="round" />
<ellipse cx="635" cy="758" rx="6.3" ry="3.2" stroke="#1a1a1a" stroke-width="1.2" fill="#fff"/>
<ellipse cx="635" cy="758.2" rx="2.8" ry="1.4" stroke="#1a1a1a" stroke-width="1.0" fill="none"/>
<path d="M629 763 C631.5 767 639 767 641.2 763" stroke="#1a1a1a" stroke-width="1.0" fill="none" stroke-linejoin="round" stroke-linecap="round" />
<path d="M629 748 C626.5 748.8 625 750.5 625.5 752.5" stroke="#1a1a1a" stroke-width="0.9" fill="none" stroke-linejoin="round" stroke-linecap="round" />
<path d="M603.8 812 C605 806 609 803 614 803 L626 800.5 C629.5 799.6 632 801.5 631.5 805 C631 808 629 810 626 810.5 L614.5 814.5 C611 815.8 608 818 606 820" stroke="#1a1a1a" stroke-width="1.2" fill="#fff" stroke-linejoin="round" stroke-linecap="round" />
<path d="M614 803 C613 806 614 809 616.5 810 L626.5 807 M627.5 800.5 L628.5 809.5" stroke="#1a1a1a" stroke-width="1.0" fill="none" stroke-linejoin="round" stroke-linecap="round" />
<path d="M562 820.5 C563.5 824 569 825 571 821.5" stroke="#1a1a1a" stroke-width="1.0" fill="none" stroke-linejoin="round" stroke-linecap="round" />
<line x1="562.3" y1="606" x2="562.3" y2="716.4" stroke="#1a1a1a" stroke-width="1.0" stroke-dasharray="46 3 3 3" stroke-linecap="butt"/>
<line x1="582" y1="606" x2="582" y2="726" stroke="#1a1a1a" stroke-width="1.0" stroke-dasharray="46 3 3 3" stroke-linecap="butt"/>
<line x1="598.1" y1="658" x2="598.1" y2="727" stroke="#1a1a1a" stroke-width="1.0" stroke-dasharray="46 3 3 3" stroke-linecap="butt"/>
<path d="M649.5 634 L649.5 675 L609.4 705 L609.4 741" stroke="#1a1a1a" stroke-width="1.0" fill="none" stroke-dasharray="30 2.5 2.5 2.5" stroke-linejoin="round" stroke-linecap="round" />
<path d="M689.2 654.4 L689.2 673.1 L641.2 701.2 L641.2 734" stroke="#1a1a1a" stroke-width="1.0" fill="none" stroke-dasharray="30 2.5 2.5 2.5" stroke-linejoin="round" stroke-linecap="round" />
<path d="M683.6 733 L683.6 748 L635.6 721.9 L635.6 757" stroke="#1a1a1a" stroke-width="1.0" fill="none" stroke-dasharray="40 2.5 2.5 2.5" stroke-linejoin="round" stroke-linecap="round" />
<path d="M559.1 570.8 L559.1 604.3 C559.1 606.3 565.6999999999999 606.3 565.6999999999999 604.3 L565.6999999999999 570.8 Z" stroke="#1a1a1a" stroke-width="1.1" fill="#fff" stroke-linejoin="round" stroke-linecap="round" />
<path d="M558.8000000000001 589.0 L565.9999999999999 590.1" stroke="#1a1a1a" stroke-width="1.0" fill="none" stroke-linejoin="round" stroke-linecap="round" />
<path d="M558.8000000000001 590.9 L565.9999999999999 592.0" stroke="#1a1a1a" stroke-width="1.0" fill="none" stroke-linejoin="round" stroke-linecap="round" />
<path d="M558.8000000000001 592.8 L565.9999999999999 593.9" stroke="#1a1a1a" stroke-width="1.0" fill="none" stroke-linejoin="round" stroke-linecap="round" />
<path d="M558.8000000000001 594.7 L565.9999999999999 595.8" stroke="#1a1a1a" stroke-width="1.0" fill="none" stroke-linejoin="round" stroke-linecap="round" />
<path d="M558.8000000000001 596.6 L565.9999999999999 597.7" stroke="#1a1a1a" stroke-width="1.0" fill="none" stroke-linejoin="round" stroke-linecap="round" />
<path d="M558.8000000000001 598.5 L565.9999999999999 599.6" stroke="#1a1a1a" stroke-width="1.0" fill="none" stroke-linejoin="round" stroke-linecap="round" />
<path d="M558.8000000000001 600.4 L565.9999999999999 601.5" stroke="#1a1a1a" stroke-width="1.0" fill="none" stroke-linejoin="round" stroke-linecap="round" />
<path d="M558.8000000000001 602.3 L565.9999999999999 603.4" stroke="#1a1a1a" stroke-width="1.0" fill="none" stroke-linejoin="round" stroke-linecap="round" />
<ellipse cx="562.4" cy="569.5999999999999" rx="7.0" ry="3.0" stroke="#1a1a1a" stroke-width="1.2" fill="#fff"/>
<path d="M555.4 569.5999999999999 C555.4 573.4 569.4 573.4 569.4 569.5999999999999" stroke="#1a1a1a" stroke-width="1.5" fill="none" stroke-linejoin="round" stroke-linecap="round" />
<path d="M557.1999999999999 568.5999999999999 L557.1999999999999 563.9 C559.28 561.5 565.52 561.5 567.6 563.9 L567.6 568.5999999999999 C565.0 570.1999999999999 559.8 570.1999999999999 557.1999999999999 568.5999999999999 Z" stroke="#1a1a1a" stroke-width="1.15" fill="#fff" stroke-linejoin="round" stroke-linecap="round" />
<path d="M560.5799999999999 564.9 L560.5799999999999 569.5 M557.1999999999999 564.0999999999999 C559.8 565.9 565.0 565.9 567.6 564.0999999999999" stroke="#1a1a1a" stroke-width="0.9" fill="none" stroke-linejoin="round" stroke-linecap="round" />
<path d="M581.15 549.4 L581.15 589.5 C581.15 591.5 585.85 591.5 585.85 589.5 L585.85 549.4 Z" stroke="#1a1a1a" stroke-width="1.1" fill="#fff" stroke-linejoin="round" stroke-linecap="round" />
<path d="M580.85 578.8 L586.15 579.9" stroke="#1a1a1a" stroke-width="1.0" fill="none" stroke-linejoin="round" stroke-linecap="round" />
<path d="M580.85 580.7 L586.15 581.8" stroke="#1a1a1a" stroke-width="1.0" fill="none" stroke-linejoin="round" stroke-linecap="round" />
<path d="M580.85 582.6 L586.15 583.7" stroke="#1a1a1a" stroke-width="1.0" fill="none" stroke-linejoin="round" stroke-linecap="round" />
<path d="M580.85 584.5 L586.15 585.6" stroke="#1a1a1a" stroke-width="1.0" fill="none" stroke-linejoin="round" stroke-linecap="round" />
<path d="M580.85 586.4 L586.15 587.5" stroke="#1a1a1a" stroke-width="1.0" fill="none" stroke-linejoin="round" stroke-linecap="round" />
<path d="M580.85 588.3 L586.15 589.4" stroke="#1a1a1a" stroke-width="1.0" fill="none" stroke-linejoin="round" stroke-linecap="round" />
<path d="M578.8 549.9 L578.8 546.1999999999999 C580.68 543.8 586.32 543.8 588.2 546.1999999999999 L588.2 549.9 C585.85 552.0 581.15 552.0 578.8 549.9 Z" stroke="#1a1a1a" stroke-width="1.15" fill="#fff" stroke-linejoin="round" stroke-linecap="round" />
<path d="M578.8 546.8 C581.15 548.6 585.85 548.6 588.2 546.8 M582.09 548.0 L582.09 551.1999999999999 M578.8 548.8 C581.15 550.6 585.85 550.6 588.2 548.8" stroke="#1a1a1a" stroke-width="0.9" fill="none" stroke-linejoin="round" stroke-linecap="round" />
<path d="M647.7 591.3 L647.7 630.9 C647.7 632.9 652.3 632.9 652.3 630.9 L652.3 591.3 Z" stroke="#1a1a1a" stroke-width="1.1" fill="#fff" stroke-linejoin="round" stroke-linecap="round" />
<path d="M647.4000000000001 620.3 L652.5999999999999 621.4" stroke="#1a1a1a" stroke-width="1.0" fill="none" stroke-linejoin="round" stroke-linecap="round" />
<path d="M647.4000000000001 622.2 L652.5999999999999 623.3" stroke="#1a1a1a" stroke-width="1.0" fill="none" stroke-linejoin="round" stroke-linecap="round" />
<path d="M647.4000000000001 624.1 L652.5999999999999 625.2" stroke="#1a1a1a" stroke-width="1.0" fill="none" stroke-linejoin="round" stroke-linecap="round" />
<path d="M647.4000000000001 626.0 L652.5999999999999 627.1" stroke="#1a1a1a" stroke-width="1.0" fill="none" stroke-linejoin="round" stroke-linecap="round" />
<path d="M647.4000000000001 627.9 L652.5999999999999 629.0" stroke="#1a1a1a" stroke-width="1.0" fill="none" stroke-linejoin="round" stroke-linecap="round" />
<path d="M647.4000000000001 629.8 L652.5999999999999 630.9" stroke="#1a1a1a" stroke-width="1.0" fill="none" stroke-linejoin="round" stroke-linecap="round" />
<path d="M645.4 591.8 L645.4 588.0999999999999 C647.24 585.6999999999999 652.76 585.6999999999999 654.6 588.0999999999999 L654.6 591.8 C652.3 593.9 647.7 593.9 645.4 591.8 Z" stroke="#1a1a1a" stroke-width="1.15" fill="#fff" stroke-linejoin="round" stroke-linecap="round" />
<path d="M645.4 588.6999999999999 C647.7 590.5 652.3 590.5 654.6 588.6999999999999 M648.62 589.9 L648.62 593.0999999999999 M645.4 590.6999999999999 C647.7 592.5 652.3 592.5 654.6 590.6999999999999" stroke="#1a1a1a" stroke-width="0.9" fill="none" stroke-linejoin="round" stroke-linecap="round" />
<path d="M686.4000000000001 618.9 L686.4000000000001 651.5 C686.4000000000001 653.5 693.0 653.5 693.0 651.5 L693.0 618.9 Z" stroke="#1a1a1a" stroke-width="1.1" fill="#fff" stroke-linejoin="round" stroke-linecap="round" />
<path d="M686.1000000000001 636.7 L693.3 637.8" stroke="#1a1a1a" stroke-width="1.0" fill="none" stroke-linejoin="round" stroke-linecap="round" />
<path d="M686.1000000000001 638.6 L693.3 639.7" stroke="#1a1a1a" stroke-width="1.0" fill="none" stroke-linejoin="round" stroke-linecap="round" />
<path d="M686.1000000000001 640.5 L693.3 641.6" stroke="#1a1a1a" stroke-width="1.0" fill="none" stroke-linejoin="round" stroke-linecap="round" />
<path d="M686.1000000000001 642.4 L693.3 643.5" stroke="#1a1a1a" stroke-width="1.0" fill="none" stroke-linejoin="round" stroke-linecap="round" />
<path d="M686.1000000000001 644.3 L693.3 645.4" stroke="#1a1a1a" stroke-width="1.0" fill="none" stroke-linejoin="round" stroke-linecap="round" />
<path d="M686.1000000000001 646.2 L693.3 647.3" stroke="#1a1a1a" stroke-width="1.0" fill="none" stroke-linejoin="round" stroke-linecap="round" />
<path d="M686.1000000000001 648.1 L693.3 649.2" stroke="#1a1a1a" stroke-width="1.0" fill="none" stroke-linejoin="round" stroke-linecap="round" />
<path d="M686.1000000000001 650.0 L693.3 651.1" stroke="#1a1a1a" stroke-width="1.0" fill="none" stroke-linejoin="round" stroke-linecap="round" />
<ellipse cx="689.7" cy="617.6999999999999" rx="7.1" ry="3.0" stroke="#1a1a1a" stroke-width="1.2" fill="#fff"/>
<path d="M682.6 617.6999999999999 C682.6 621.5 696.8000000000001 621.5 696.8000000000001 617.6999999999999" stroke="#1a1a1a" stroke-width="1.5" fill="none" stroke-linejoin="round" stroke-linecap="round" />
<path d="M684.4000000000001 616.6999999999999 L684.4000000000001 612.0 C686.5200000000001 609.6 692.88 609.6 695.0 612.0 L695.0 616.6999999999999 C692.35 618.3 687.0500000000001 618.3 684.4000000000001 616.6999999999999 Z" stroke="#1a1a1a" stroke-width="1.15" fill="#fff" stroke-linejoin="round" stroke-linecap="round" />
<path d="M687.845 613.0 L687.845 617.6 M684.4000000000001 612.1999999999999 C687.0500000000001 614.0 692.35 614.0 695.0 612.1999999999999" stroke="#1a1a1a" stroke-width="0.9" fill="none" stroke-linejoin="round" stroke-linecap="round" />
<path d="M680.7 697.5 L680.7 734 C680.7 736 686.7 736 686.7 734 L686.7 697.5 Z" stroke="#1a1a1a" stroke-width="1.1" fill="#fff" stroke-linejoin="round" stroke-linecap="round" />
<path d="M680.4000000000001 719.0 L687.0 720.1" stroke="#1a1a1a" stroke-width="1.0" fill="none" stroke-linejoin="round" stroke-linecap="round" />
<path d="M680.4000000000001 720.9 L687.0 722.0" stroke="#1a1a1a" stroke-width="1.0" fill="none" stroke-linejoin="round" stroke-linecap="round" />
<path d="M680.4000000000001 722.8 L687.0 723.9" stroke="#1a1a1a" stroke-width="1.0" fill="none" stroke-linejoin="round" stroke-linecap="round" />
<path d="M680.4000000000001 724.7 L687.0 725.8" stroke="#1a1a1a" stroke-width="1.0" fill="none" stroke-linejoin="round" stroke-linecap="round" />
<path d="M680.4000000000001 726.6 L687.0 727.7" stroke="#1a1a1a" stroke-width="1.0" fill="none" stroke-linejoin="round" stroke-linecap="round" />
<path d="M680.4000000000001 728.5 L687.0 729.6" stroke="#1a1a1a" stroke-width="1.0" fill="none" stroke-linejoin="round" stroke-linecap="round" />
<path d="M680.4000000000001 730.4 L687.0 731.5" stroke="#1a1a1a" stroke-width="1.0" fill="none" stroke-linejoin="round" stroke-linecap="round" />
<path d="M680.4000000000001 732.3 L687.0 733.4" stroke="#1a1a1a" stroke-width="1.0" fill="none" stroke-linejoin="round" stroke-linecap="round" />
<ellipse cx="683.7" cy="696.3" rx="6.3" ry="3.0" stroke="#1a1a1a" stroke-width="1.2" fill="#fff"/>
<path d="M677.4000000000001 696.3 C677.4000000000001 700.1 690.0 700.1 690.0 696.3" stroke="#1a1a1a" stroke-width="1.5" fill="none" stroke-linejoin="round" stroke-linecap="round" />
<path d="M679.2 695.3 L679.2 690.6 C681.0 688.2 686.4000000000001 688.2 688.2 690.6 L688.2 695.3 C685.95 696.9 681.45 696.9 679.2 695.3 Z" stroke="#1a1a1a" stroke-width="1.15" fill="#fff" stroke-linejoin="round" stroke-linecap="round" />
<path d="M682.125 691.6 L682.125 696.2 M679.2 690.8 C681.45 692.6 685.95 692.6 688.2 690.8" stroke="#1a1a1a" stroke-width="0.9" fill="none" stroke-linejoin="round" stroke-linecap="round" />
<path d="M594.9 636.1 L594.9 645 C594.9 647 600.1 647 600.1 645 L600.1 636.1 Z" stroke="#1a1a1a" stroke-width="1.1" fill="#fff" stroke-linejoin="round" stroke-linecap="round" />
<path d="M594.6 639.7 L600.4 640.8" stroke="#1a1a1a" stroke-width="1.0" fill="none" stroke-linejoin="round" stroke-linecap="round" />
<path d="M594.6 641.6 L600.4 642.7" stroke="#1a1a1a" stroke-width="1.0" fill="none" stroke-linejoin="round" stroke-linecap="round" />
<path d="M594.6 643.5 L600.4 644.6" stroke="#1a1a1a" stroke-width="1.0" fill="none" stroke-linejoin="round" stroke-linecap="round" />
<ellipse cx="597.5" cy="634.9" rx="5.2" ry="3.0" stroke="#1a1a1a" stroke-width="1.2" fill="#fff"/>
<path d="M592.3 634.9 C592.3 638.7 602.7 638.7 602.7 634.9" stroke="#1a1a1a" stroke-width="1.5" fill="none" stroke-linejoin="round" stroke-linecap="round" />
<path d="M594.1 633.9 L594.1 629.2 C595.46 626.8000000000001 599.54 626.8000000000001 600.9 629.2 L600.9 633.9 C599.2 635.5 595.8 635.5 594.1 633.9 Z" stroke="#1a1a1a" stroke-width="1.15" fill="#fff" stroke-linejoin="round" stroke-linecap="round" />
<path d="M596.31 630.2 L596.31 634.8000000000001 M594.1 629.4 C595.8 631.2 599.2 631.2 600.9 629.4" stroke="#1a1a1a" stroke-width="0.9" fill="none" stroke-linejoin="round" stroke-linecap="round" />
<ellipse cx="583" cy="600.8" rx="5" ry="3.4" stroke="#1a1a1a" stroke-width="1.0" fill="#fff"/>
<ellipse cx="583" cy="600.0" rx="5" ry="3.4" stroke="#1a1a1a" stroke-width="1.6" fill="#fff"/>
<ellipse cx="583" cy="600.0" rx="2.5" ry="1.7" stroke="#1a1a1a" stroke-width="1.5" fill="none"/>
<ellipse cx="597.3" cy="653.0" rx="5.2" ry="3.0" stroke="#1a1a1a" stroke-width="1.0" fill="#fff"/>
<ellipse cx="597.3" cy="652.2" rx="5.2" ry="3.0" stroke="#1a1a1a" stroke-width="1.1" fill="#fff"/>
<ellipse cx="597.3" cy="652.2" rx="2.6" ry="1.5" stroke="#1a1a1a" stroke-width="1.0" fill="none"/>
<ellipse cx="650" cy="643.0" rx="4.6" ry="3.2" stroke="#1a1a1a" stroke-width="1.0" fill="#fff"/>
<ellipse cx="650" cy="642.2" rx="4.6" ry="3.2" stroke="#1a1a1a" stroke-width="1.6" fill="#fff"/>
<ellipse cx="650" cy="642.2" rx="2.3" ry="1.6" stroke="#1a1a1a" stroke-width="1.5" fill="none"/>
<path d="M609.8 668.8 L616.4 668.8 L617.6 682.6 L621.6 681.6 L615.6 695.6 L604.7 685.6 L608.8 684.8 Z" stroke="#1a1a1a" stroke-width="1.2" fill="#fff" stroke-linejoin="round" stroke-linecap="round" />
<path d="M567.9 889.4 C567.2 887.7 567.4 882.3 568.2 880.5 C569.0 878.7 571.8 876.5 573.6 875.8 C575.4 875.1 578.8 874.2 581.5 875.0 C584.2 875.8 590.7 880.6 593.7 881.5 C596.7 882.4 600.5 880.4 603.7 881.5 C606.9 882.6 614.6 887.5 618.0 889.4 C621.4 891.3 626.9 894.4 629.5 895.8 C632.1 897.2 636.4 898.4 637.4 899.6 C638.4 900.8 635.5 903.6 636.7 905.1 C637.9 906.6 645.0 909.6 646.7 910.9 C648.4 912.2 649.6 914.1 649.6 915.2 C649.6 916.3 648.6 918.4 646.7 919.5 C644.8 920.6 638.1 923.4 635.2 923.8 C632.3 924.2 628.3 923.4 625.2 922.3 C622.1 921.2 615.2 916.7 612.3 915.2 C609.4 913.7 605.6 912.2 603.7 910.9 C601.8 909.6 599.8 906.9 598.0 905.8 C596.2 904.7 592.4 904.0 590.1 903.0 C587.8 902.0 583.0 899.3 580.8 898.0 C578.6 896.7 575.3 894.1 573.6 893.0 C571.9 891.9 568.6 891.1 567.9 889.4 Z" stroke="#1a1a1a" stroke-width="2.1" fill="none" stroke-linejoin="round" stroke-linecap="round" />
<ellipse cx="593.4" cy="902.3" rx="3.2" ry="2.2" stroke="#1a1a1a" stroke-width="1.7" fill="#fff"/>
<path d="M356.6 786 L362 786 L368 835.3 L368 918.7 L362 968 L356.6 968 Z" stroke="#1a1a1a" stroke-width="1.15" fill="none" stroke-linejoin="round" stroke-linecap="round" />
<path d="M356.6 794.3 L352.5 794.3 L352.5 961 L356.6 961" stroke="#1a1a1a" stroke-width="1.15" fill="none" stroke-linejoin="round" stroke-linecap="round" />
<path d="M352.5 799.7 L346.4 799.7 L346.4 955.6 L352.5 955.6" stroke="#1a1a1a" stroke-width="1.15" fill="none" stroke-linejoin="round" stroke-linecap="round" />
<path d="M400.3 809.8 L419.5 809.8 C424 810 427 813 427.2 817 C427.3 821 426 824.5 428 828" stroke="#1a1a1a" stroke-width="1.15" fill="none" stroke-linejoin="round" stroke-linecap="round" />
<path d="M438.6 838 L438.6 907.5" stroke="#1a1a1a" stroke-width="1.15" fill="none" stroke-linejoin="round" stroke-linecap="round" />
<path d="M428 917.5 C426 921 427.3 925 427.2 931 C427 937 424 940.8 419.5 941.1 L400.3 941.1" stroke="#1a1a1a" stroke-width="1.15" fill="none" stroke-linejoin="round" stroke-linecap="round" />
<path d="M385.8 822.5 L370.2 835.3 M385.8 935 L370.2 918.7" stroke="#1a1a1a" stroke-width="1.15" fill="none" stroke-linejoin="round" stroke-linecap="round" />
<path d="M368 838 C372 840 376 840.5 380 841.5 C384 842.5 386 845 386 848" stroke="#1a1a1a" stroke-width="1.15" fill="none" stroke-linejoin="round" stroke-linecap="round" />
<path d="M368 842.1 L368 918.7 M370.2 835.3 L368 838" stroke="#1a1a1a" stroke-width="1.15" fill="none" stroke-linejoin="round" stroke-linecap="round" />
<path d="M368 866 C374 866 378.5 864 381.5 860.5 C383.5 858 385.5 857 387.5 857" stroke="#1a1a1a" stroke-width="1.0" fill="none" stroke-linejoin="round" stroke-linecap="round" />
<path d="M371.5 868 L371.5 914 M375.5 868 L375.5 897" stroke="#1a1a1a" stroke-width="1.0" fill="none" stroke-linejoin="round" stroke-linecap="round" />
<path d="M379 866 L379 876 C379 878 380 879 382 879 M379 885 L379 893" stroke="#1a1a1a" stroke-width="1.0" fill="none" stroke-linejoin="round" stroke-linecap="round" />
<path d="M404.4 851.7 L429.9 851.7" stroke="#1a1a1a" stroke-width="1.15" fill="none" stroke-linejoin="round" stroke-linecap="round" />
<path d="M401 846 C402.5 848 403.5 850 404.4 851.7" stroke="#1a1a1a" stroke-width="1.0" fill="none" stroke-linejoin="round" stroke-linecap="round" />
<path d="M392 859.5 L392 866 L398 866 L398 876.3" stroke="#1a1a1a" stroke-width="1.0" fill="none" stroke-linejoin="round" stroke-linecap="round" />
<path d="M398 876.3 L411.5 876.3 C414 876.3 415 872 418 872 L429.9 872 M398 880 L411.5 880 C414 880 415 883.5 418 883.5 L429.9 883.5" stroke="#1a1a1a" stroke-width="1.0" fill="none" stroke-linejoin="round" stroke-linecap="round" />
<path d="M401.5 866 L401.5 893 C401.5 897 404 898.6 408 898.6 L427 898.6" stroke="#1a1a1a" stroke-width="1.0" fill="none" stroke-linejoin="round" stroke-linecap="round" />
<path d="M368 918.7 L380 917 L400 906 L411 901.5 M380 917 L383 908 L398 903" stroke="#1a1a1a" stroke-width="1.0" fill="none" stroke-linejoin="round" stroke-linecap="round" />
<path d="M429.9 850.3 L438.6 850.3 L438.6 905 L429.9 905 Z" stroke="#1a1a1a" stroke-width="1.15" fill="none" stroke-linejoin="round" stroke-linecap="round" />
<path d="M432.5 858 L438.6 858" stroke="#1a1a1a" stroke-width="1.0" fill="none" stroke-linejoin="round" stroke-linecap="round" />
<path d="M432.5 866 L438.6 866" stroke="#1a1a1a" stroke-width="1.0" fill="none" stroke-linejoin="round" stroke-linecap="round" />
<path d="M432.5 874 L438.6 874" stroke="#1a1a1a" stroke-width="1.0" fill="none" stroke-linejoin="round" stroke-linecap="round" />
<path d="M432.5 882 L438.6 882" stroke="#1a1a1a" stroke-width="1.0" fill="none" stroke-linejoin="round" stroke-linecap="round" />
<path d="M432.5 890 L438.6 890" stroke="#1a1a1a" stroke-width="1.0" fill="none" stroke-linejoin="round" stroke-linecap="round" />
<path d="M432.5 897.5 L438.6 897.5" stroke="#1a1a1a" stroke-width="1.0" fill="none" stroke-linejoin="round" stroke-linecap="round" />
<path d="M432.5 850.3 L432.5 905" stroke="#1a1a1a" stroke-width="1.0" fill="none" stroke-linejoin="round" stroke-linecap="round" />
<ellipse cx="392.1" cy="816.1" rx="7.4" ry="7.4" stroke="#1a1a1a" stroke-width="1.25" fill="#fff"/>
<path d="M392.1 823.8 L391.1 823.7 L390.1 823.5 L389.2 823.2 L388.2 822.8 L387.4 822.2 L386.7 821.5 L386.0 820.8 L385.4 820.0 L385.0 819.0 L384.7 818.1 L384.5 817.1 L384.4 816.1 L384.5 815.1 L384.7 814.1 L385.0 813.2 L385.4 812.2 L386.0 811.4 L386.7 810.7 L387.4 810.0 L388.2 809.4 L389.2 809.0 L390.1 808.7 L391.1 808.5 L392.1 808.4 L393.1 808.5 L394.1 808.7 L395.0 809.0 L396.0 809.4 " stroke="#1a1a1a" stroke-width="1.9" fill="none" stroke-linejoin="round" stroke-linecap="round" />
<ellipse cx="392.1" cy="816.1" rx="5.1" ry="5.1" stroke="#1a1a1a" stroke-width="0.7" fill="none"/>
<ellipse cx="392.1" cy="816.1" rx="3.4" ry="3.4" stroke="#1a1a1a" stroke-width="1.3" fill="none"/>
<ellipse cx="430.4" cy="833.9" rx="7.4" ry="7.4" stroke="#1a1a1a" stroke-width="1.25" fill="#fff"/>
<path d="M426.5 827.2 L427.3 826.8 L428.1 826.5 L429.0 826.3 L429.8 826.2 L430.7 826.2 L431.5 826.3 L432.4 826.5 L433.2 826.7 L434.0 827.1 L434.7 827.5 L435.4 828.1 L436.0 828.7 L436.6 829.3 L437.1 830.0 L437.5 830.8 L437.8 831.6 L438.0 832.5 L438.1 833.3 L438.1 834.2 L438.0 835.0 L437.8 835.9 L437.6 836.7 L437.2 837.5 L436.8 838.2 L436.2 838.9 L435.6 839.5 L435.0 840.1 L434.2 840.6 " stroke="#1a1a1a" stroke-width="1.9" fill="none" stroke-linejoin="round" stroke-linecap="round" />
<ellipse cx="430.4" cy="833.9" rx="5.1" ry="5.1" stroke="#1a1a1a" stroke-width="0.7" fill="none"/>
<ellipse cx="430.4" cy="833.9" rx="3.4" ry="3.4" stroke="#1a1a1a" stroke-width="1.3" fill="none"/>
<ellipse cx="393.5" cy="850.3" rx="7.0" ry="7.0" stroke="#1a1a1a" stroke-width="1.25" fill="#fff"/>
<path d="M392.2 857.5 L391.4 857.3 L390.7 857.0 L389.9 856.7 L389.2 856.2 L388.6 855.7 L388.0 855.1 L387.5 854.5 L387.1 853.8 L386.7 853.1 L386.5 852.3 L386.3 851.5 L386.2 850.7 L386.2 849.8 L386.3 849.0 L386.5 848.2 L386.8 847.5 L387.1 846.7 L387.6 846.0 L388.1 845.4 L388.7 844.8 L389.3 844.3 L390.0 843.9 L390.7 843.5 L391.5 843.3 L392.3 843.1 L393.1 843.0 L394.0 843.0 L394.8 843.1 " stroke="#1a1a1a" stroke-width="1.9" fill="none" stroke-linejoin="round" stroke-linecap="round" />
<ellipse cx="393.5" cy="850.3" rx="5.1" ry="5.1" stroke="#1a1a1a" stroke-width="0.7" fill="none"/>
<ellipse cx="393.5" cy="850.3" rx="3.4" ry="3.4" stroke="#1a1a1a" stroke-width="1.3" fill="none"/>
<ellipse cx="430.4" cy="911.8" rx="7.4" ry="7.4" stroke="#1a1a1a" stroke-width="1.25" fill="#fff"/>
<path d="M434.2 905.1 L435.0 905.6 L435.6 906.2 L436.2 906.8 L436.8 907.5 L437.2 908.2 L437.6 909.0 L437.8 909.8 L438.0 910.7 L438.1 911.5 L438.1 912.4 L438.0 913.2 L437.8 914.1 L437.5 914.9 L437.1 915.6 L436.6 916.4 L436.0 917.0 L435.4 917.6 L434.7 918.2 L434.0 918.6 L433.2 919.0 L432.4 919.2 L431.5 919.4 L430.7 919.5 L429.8 919.5 L429.0 919.4 L428.1 919.2 L427.3 918.9 L426.5 918.5 " stroke="#1a1a1a" stroke-width="1.9" fill="none" stroke-linejoin="round" stroke-linecap="round" />
<ellipse cx="430.4" cy="911.8" rx="5.1" ry="5.1" stroke="#1a1a1a" stroke-width="0.7" fill="none"/>
<ellipse cx="430.4" cy="911.8" rx="3.4" ry="3.4" stroke="#1a1a1a" stroke-width="1.3" fill="none"/>
<ellipse cx="392.1" cy="941.1" rx="7.4" ry="7.4" stroke="#1a1a1a" stroke-width="1.25" fill="#fff"/>
<path d="M396.0 947.8 L395.0 948.2 L394.1 948.5 L393.1 948.7 L392.1 948.8 L391.1 948.7 L390.1 948.5 L389.2 948.2 L388.2 947.8 L387.4 947.2 L386.7 946.5 L386.0 945.8 L385.4 945.0 L385.0 944.0 L384.7 943.1 L384.5 942.1 L384.4 941.1 L384.5 940.1 L384.7 939.1 L385.0 938.2 L385.4 937.2 L386.0 936.4 L386.7 935.7 L387.4 935.0 L388.2 934.4 L389.2 934.0 L390.1 933.7 L391.1 933.5 L392.1 933.4 " stroke="#1a1a1a" stroke-width="1.9" fill="none" stroke-linejoin="round" stroke-linecap="round" />
<ellipse cx="392.1" cy="941.1" rx="5.1" ry="5.1" stroke="#1a1a1a" stroke-width="0.7" fill="none"/>
<ellipse cx="392.1" cy="941.1" rx="3.4" ry="3.4" stroke="#1a1a1a" stroke-width="1.3" fill="none"/>
<ellipse cx="393.5" cy="894.1" rx="5.0" ry="5.0" stroke="#1a1a1a" stroke-width="1.2" fill="#fff"/>
<ellipse cx="393.5" cy="894.1" rx="2.6" ry="2.6" stroke="#1a1a1a" stroke-width="1.2" fill="none"/>
<path d="M398.4 895.9 L398.2 896.4 L397.9 896.9 L397.5 897.4 L397.1 897.8 L396.7 898.2 L396.2 898.5 L395.7 898.8 L395.2 899.0 L394.6 899.2 L394.0 899.3 L393.4 899.3 L392.9 899.3 L392.3 899.2 L391.7 899.0 L391.2 898.8 L390.7 898.5 L390.2 898.1 L389.8 897.7 L389.4 897.3 L389.1 896.8 L388.8 896.3 L388.6 895.8 L388.4 895.2 L388.3 894.6 L388.3 894.0 L388.3 893.5 L388.4 892.9 L388.6 892.3 " stroke="#1a1a1a" stroke-width="1.7" fill="none" stroke-linejoin="round" stroke-linecap="round" />
<ellipse cx="387.2" cy="881.2" rx="2.6" ry="2.6" stroke="#1a1a1a" stroke-width="1.0" fill="none"/>
<path d="M112 959.3 L127.6 935.3 L130.7 937.4 L131.3 940.5 L154.2 927.5 L157.8 929.6 L157.8 948.3 L131.3 964 L131.3 970.2 Z" stroke="#1a1a1a" stroke-width="1.4" fill="#fff" stroke-linejoin="round" stroke-linecap="round" />
<path d="M115.4 960.9 L130.2 938.2 M131.3 940.5 L131.6 943.8 L154.9 930.8 L157.8 929.6 M154.9 930.8 L154.2 927.5" stroke="#1a1a1a" stroke-width="1.0" fill="none" stroke-linejoin="round" stroke-linecap="round" />
<text transform="translate(129.4 962.2) rotate(-30.5) skewX(-36)" font-size="15.5" font-weight="bold" fill="#111" textLength="27.5" lengthAdjust="spacingAndGlyphs" stroke="#111" stroke-width="0.6">FWD</text>
<line x1="376.9" y1="118.1" x2="383.9" y2="155.6" stroke="#1a1a1a" stroke-width="1.15" stroke-linecap="butt"/>
<line x1="553.1" y1="143.4" x2="582.4" y2="138.7" stroke="#1a1a1a" stroke-width="1.15" stroke-linecap="butt"/>
<line x1="546.1" y1="218.4" x2="582.4" y2="214.8" stroke="#1a1a1a" stroke-width="1.15" stroke-linecap="butt"/>
<line x1="562.5" y1="290" x2="532.5" y2="325" stroke="#1a1a1a" stroke-width="1.15" stroke-linecap="butt"/>
<line x1="656.2" y1="328.7" x2="624.4" y2="339.2" stroke="#1a1a1a" stroke-width="1.15" stroke-linecap="butt"/>
<line x1="201" y1="330.1" x2="250.2" y2="346.5" stroke="#1a1a1a" stroke-width="1.15" stroke-linecap="butt"/>
<line x1="199.2" y1="368.9" x2="245.7" y2="375.6" stroke="#1a1a1a" stroke-width="1.15" stroke-linecap="butt"/>
<line x1="622.5" y1="466.4" x2="588" y2="479.5" stroke="#1a1a1a" stroke-width="1.15" stroke-linecap="butt"/>
<line x1="473.4" y1="486.7" x2="457.5" y2="518" stroke="#1a1a1a" stroke-width="1.15" stroke-linecap="butt"/>
<line x1="344.8" y1="495.1" x2="328.5" y2="523.9" stroke="#1a1a1a" stroke-width="1.15" stroke-linecap="butt"/>
<line x1="375.6" y1="511.8" x2="364.7" y2="541.9" stroke="#1a1a1a" stroke-width="1.15" stroke-linecap="butt"/>
<line x1="404.8" y1="522.8" x2="413" y2="570.2" stroke="#1a1a1a" stroke-width="1.15" stroke-linecap="butt"/>
<line x1="494.8" y1="537.5" x2="477.3" y2="556.2" stroke="#1a1a1a" stroke-width="1.15" stroke-linecap="butt"/>
<line x1="523" y1="571.5" x2="504.2" y2="589" stroke="#1a1a1a" stroke-width="1.15" stroke-linecap="butt"/>
<line x1="572" y1="539.7" x2="564.3" y2="562" stroke="#1a1a1a" stroke-width="1.15" stroke-linecap="butt"/>
<line x1="603" y1="557.5" x2="586" y2="565" stroke="#1a1a1a" stroke-width="1.15" stroke-linecap="butt"/>
<line x1="603" y1="589.6" x2="587" y2="598.5" stroke="#1a1a1a" stroke-width="1.15" stroke-linecap="butt"/>
<line x1="669.2" y1="599" x2="652.8" y2="606.5" stroke="#1a1a1a" stroke-width="1.15" stroke-linecap="butt"/>
<line x1="716" y1="602" x2="694.4" y2="614" stroke="#1a1a1a" stroke-width="1.15" stroke-linecap="butt"/>
<line x1="621.6" y1="622.8" x2="602.4" y2="630.2" stroke="#1a1a1a" stroke-width="1.15" stroke-linecap="butt"/>
<line x1="712.2" y1="683" x2="690" y2="691.7" stroke="#1a1a1a" stroke-width="1.15" stroke-linecap="butt"/>
<line x1="110.1" y1="590.6" x2="141.6" y2="574.3" stroke="#1a1a1a" stroke-width="1.15" stroke-linecap="butt"/>
<line x1="303.6" y1="583.8" x2="319.1" y2="570.2" stroke="#1a1a1a" stroke-width="1.15" stroke-linecap="butt"/>
<line x1="335.5" y1="601.2" x2="359.2" y2="590.2" stroke="#1a1a1a" stroke-width="1.15" stroke-linecap="butt"/>
<line x1="206" y1="636.5" x2="239.6" y2="637.3" stroke="#1a1a1a" stroke-width="1.15" stroke-linecap="butt"/>
<line x1="206" y1="677.4" x2="239" y2="671.7" stroke="#1a1a1a" stroke-width="1.15" stroke-linecap="butt"/>
<line x1="206" y1="722.4" x2="251.9" y2="715.5" stroke="#1a1a1a" stroke-width="1.15" stroke-linecap="butt"/>
<line x1="326" y1="674.6" x2="336.5" y2="648.6" stroke="#1a1a1a" stroke-width="1.15" stroke-linecap="butt"/>
<line x1="367.7" y1="692.9" x2="379.4" y2="666.8" stroke="#1a1a1a" stroke-width="1.15" stroke-linecap="butt"/>
<line x1="468" y1="690.3" x2="477" y2="656.4" stroke="#1a1a1a" stroke-width="1.15" stroke-linecap="butt"/>
<line x1="669.4" y1="796.7" x2="705" y2="796.7" stroke="#1a1a1a" stroke-width="1.15" stroke-linecap="butt"/>
<line x1="538" y1="860.5" x2="588.7" y2="855.6" stroke="#1a1a1a" stroke-width="1.15" stroke-linecap="butt"/>
<line x1="616.9" y1="866.9" x2="658" y2="875.5" stroke="#1a1a1a" stroke-width="1.15" stroke-linecap="butt"/>
<line x1="540" y1="895" x2="567" y2="888.2" stroke="#1a1a1a" stroke-width="1.15" stroke-linecap="butt"/>
<line x1="415.4" y1="780.6" x2="394.8" y2="813.4" stroke="#1a1a1a" stroke-width="1.15" stroke-linecap="butt"/>
<line x1="465.9" y1="817" x2="433.1" y2="833.4" stroke="#1a1a1a" stroke-width="1.15" stroke-linecap="butt"/>
<line x1="316.9" y1="836.1" x2="389.4" y2="849.8" stroke="#1a1a1a" stroke-width="1.15" stroke-linecap="butt"/>
<line x1="316.9" y1="874.9" x2="385.3" y2="881" stroke="#1a1a1a" stroke-width="1.15" stroke-linecap="butt"/>
<line x1="316.9" y1="910.5" x2="390.7" y2="894.6" stroke="#1a1a1a" stroke-width="1.15" stroke-linecap="butt"/>
<line x1="465.9" y1="896.8" x2="433.1" y2="911" stroke="#1a1a1a" stroke-width="1.15" stroke-linecap="butt"/>
<line x1="445.4" y1="950.1" x2="396.2" y2="941.9" stroke="#1a1a1a" stroke-width="1.15" stroke-linecap="butt"/>
<line x1="622.5" y1="646" x2="600.9" y2="652" stroke="#1a1a1a" stroke-width="1.15" stroke-dasharray="7 2 1.5 2" stroke-linecap="butt"/>
<line x1="256" y1="397.5" x2="256" y2="452" stroke="#1a1a1a" stroke-width="2.4" stroke-linecap="butt"/>
<line x1="256" y1="455.5" x2="256" y2="623" stroke="#1a1a1a" stroke-width="2.4" stroke-linecap="butt"/>
<line x1="514.9" y1="169" x2="514.9" y2="216.7" stroke="#1a1a1a" stroke-width="1.15" stroke-linecap="butt"/>
<line x1="531.6" y1="651" x2="526.9" y2="681.3" stroke="#1a1a1a" stroke-width="1.15" stroke-linecap="butt"/>
<path d="M564.4 459.2 L559.2 484" stroke="#1a1a1a" stroke-width="1.15" fill="none" stroke-linejoin="round" stroke-linecap="round" />
<line x1="248.2" y1="428" x2="273" y2="421.4" stroke="#1a1a1a" stroke-width="1.15" stroke-linecap="butt"/>
<text x="363.5" y="113.2" font-size="15.5" textLength="21.2" lengthAdjust="spacingAndGlyphs" fill="#111" font-weight="normal">25</text>
<text x="583.0" y="142.2" font-size="15.5" textLength="21.2" lengthAdjust="spacingAndGlyphs" fill="#111" font-weight="normal">26</text>
<text x="583.0" y="218" font-size="15.5" textLength="21.2" lengthAdjust="spacingAndGlyphs" fill="#111" font-weight="normal">24</text>
<text x="555.0" y="286" font-size="15.5" textLength="21.2" lengthAdjust="spacingAndGlyphs" fill="#111" font-weight="normal">10</text>
<text x="659.0" y="330.5" font-size="15.5" textLength="10.4" lengthAdjust="spacingAndGlyphs" fill="#111" font-weight="normal">9</text>
<text x="177.2" y="332.4" font-size="15.5" textLength="21.2" lengthAdjust="spacingAndGlyphs" fill="#111" font-weight="normal">20</text>
<text x="177.2" y="373.5" font-size="15.5" textLength="21.2" lengthAdjust="spacingAndGlyphs" fill="#111" font-weight="normal">16</text>
<text x="624.5" y="469.2" font-size="15.5" textLength="21.2" lengthAdjust="spacingAndGlyphs" fill="#111" font-weight="normal">10</text>
<text x="466.8" y="482" font-size="15.5" textLength="21.2" lengthAdjust="spacingAndGlyphs" fill="#111" font-weight="normal">23</text>
<text x="339.2" y="492.8" font-size="15.5" textLength="21.2" lengthAdjust="spacingAndGlyphs" fill="#111" font-weight="normal">21</text>
<text x="365.4" y="508.1" font-size="15.5" textLength="21.2" lengthAdjust="spacingAndGlyphs" fill="#111" font-weight="normal">22</text>
<text x="394.5" y="521.7" font-size="15.5" textLength="21.2" lengthAdjust="spacingAndGlyphs" fill="#111" font-weight="normal">12</text>
<text x="489.2" y="535" font-size="15.5" textLength="21.2" lengthAdjust="spacingAndGlyphs" fill="#111" font-weight="normal">13</text>
<text x="569.6" y="538.2" font-size="15.5" textLength="10.4" lengthAdjust="spacingAndGlyphs" fill="#111" font-weight="normal">6</text>
<text x="602.8" y="560.5" font-size="15.5" textLength="10.4" lengthAdjust="spacingAndGlyphs" fill="#111" font-weight="normal">7</text>
<text x="523.0" y="569.3" font-size="15.5" textLength="21.2" lengthAdjust="spacingAndGlyphs" fill="#111" font-weight="normal">13</text>
<text x="602.8" y="592.5" font-size="15.5" textLength="10.4" lengthAdjust="spacingAndGlyphs" fill="#111" font-weight="normal">8</text>
<text x="90.5" y="600.1" font-size="15.5" textLength="21.2" lengthAdjust="spacingAndGlyphs" fill="#111" font-weight="normal">11</text>
<text x="283.4" y="596.7" font-size="15.5" textLength="21.2" lengthAdjust="spacingAndGlyphs" fill="#111" font-weight="normal">21</text>
<text x="313.0" y="609.8" font-size="15.5" textLength="21.2" lengthAdjust="spacingAndGlyphs" fill="#111" font-weight="normal">22</text>
<text x="716.5" y="604.1" font-size="15.5" textLength="10.4" lengthAdjust="spacingAndGlyphs" fill="#111" font-weight="normal">6</text>
<text x="669.0" y="602.6" font-size="15.5" textLength="10.4" lengthAdjust="spacingAndGlyphs" fill="#111" font-weight="normal">7</text>
<text x="622.0" y="626.4" font-size="15.5" textLength="10.4" lengthAdjust="spacingAndGlyphs" fill="#111" font-weight="normal">2</text>
<text x="671.0" y="639.7" font-size="15.5" textLength="10.4" lengthAdjust="spacingAndGlyphs" fill="#111" font-weight="normal">8</text>
<text x="183.6" y="641.6" font-size="15.5" textLength="21.2" lengthAdjust="spacingAndGlyphs" fill="#111" font-weight="normal">17</text>
<text x="623.0" y="650.1" font-size="15.5" textLength="10.4" lengthAdjust="spacingAndGlyphs" fill="#111" font-weight="normal">3</text>
<text x="311.5" y="688.2" font-size="15.5" textLength="21.2" lengthAdjust="spacingAndGlyphs" fill="#111" font-weight="normal">14</text>
<text x="712.7" y="686.7" font-size="15.5" textLength="10.4" lengthAdjust="spacingAndGlyphs" fill="#111" font-weight="normal">6</text>
<text x="183.6" y="683.7" font-size="15.5" textLength="21.2" lengthAdjust="spacingAndGlyphs" fill="#111" font-weight="normal">18</text>
<text x="355.3" y="707.4" font-size="15.5" textLength="21.2" lengthAdjust="spacingAndGlyphs" fill="#111" font-weight="normal">15</text>
<text x="455.0" y="705" font-size="15.5" textLength="21.2" lengthAdjust="spacingAndGlyphs" fill="#111" font-weight="normal">23</text>
<text x="183.6" y="728.2" font-size="15.5" textLength="21.2" lengthAdjust="spacingAndGlyphs" fill="#111" font-weight="normal">19</text>
<text x="412.4" y="778" font-size="15.5" textLength="10.4" lengthAdjust="spacingAndGlyphs" fill="#111" font-weight="normal">6</text>
<text x="707.5" y="801.5" font-size="15.5" textLength="10.4" lengthAdjust="spacingAndGlyphs" fill="#111" font-weight="normal">1</text>
<text x="466.3" y="819.7" font-size="15.5" textLength="10.4" lengthAdjust="spacingAndGlyphs" fill="#111" font-weight="normal">6</text>
<text x="290.5" y="840" font-size="15.5" textLength="23.6" lengthAdjust="spacingAndGlyphs" fill="#111" font-weight="normal">7,8</text>
<text x="526.0" y="866" font-size="15.5" textLength="10.4" lengthAdjust="spacingAndGlyphs" fill="#111" font-weight="normal">5</text>
<text x="290.5" y="878.2" font-size="15.5" textLength="23.6" lengthAdjust="spacingAndGlyphs" fill="#111" font-weight="normal">2,3</text>
<text x="661.6" y="883" font-size="15.5" textLength="10.4" lengthAdjust="spacingAndGlyphs" fill="#111" font-weight="normal">5</text>
<text x="466.3" y="899" font-size="15.5" textLength="10.4" lengthAdjust="spacingAndGlyphs" fill="#111" font-weight="normal">6</text>
<text x="526.0" y="901" font-size="15.5" textLength="10.4" lengthAdjust="spacingAndGlyphs" fill="#111" font-weight="normal">4</text>
<text x="290.5" y="917.3" font-size="15.5" textLength="23.6" lengthAdjust="spacingAndGlyphs" fill="#111" font-weight="normal">7,8</text>
<text x="446.3" y="960.5" font-size="15.5" textLength="10.4" lengthAdjust="spacingAndGlyphs" fill="#111" font-weight="normal">6</text>
<text x="606.0" y="666" font-size="15.5" textLength="13.4" lengthAdjust="spacingAndGlyphs" fill="#111" font-weight="normal">A</text>
<text x="286.9" y="754.9" font-size="15.5" textLength="64.6" lengthAdjust="spacingAndGlyphs" fill="#111" font-weight="normal">VIEW A</text>
<line x1="287" y1="757.3" x2="351" y2="757.3" stroke="#1a1a1a" stroke-width="1.0" stroke-linecap="butt"/>
<text x="86.9" y="992" font-size="15.2" textLength="109.6" lengthAdjust="spacingAndGlyphs" fill="#111" font-weight="normal">F3P5100-U070</text>
<text x="93.5" y="1108.3" font-size="23.6" textLength="658.5" lengthAdjust="spacingAndGlyphs" fill="#111" stroke="#111" stroke-width="0.7">©2022 Yamaha Motor Corporation, U.S.A. All rights reserved.</text>
</svg>
</body></html>
